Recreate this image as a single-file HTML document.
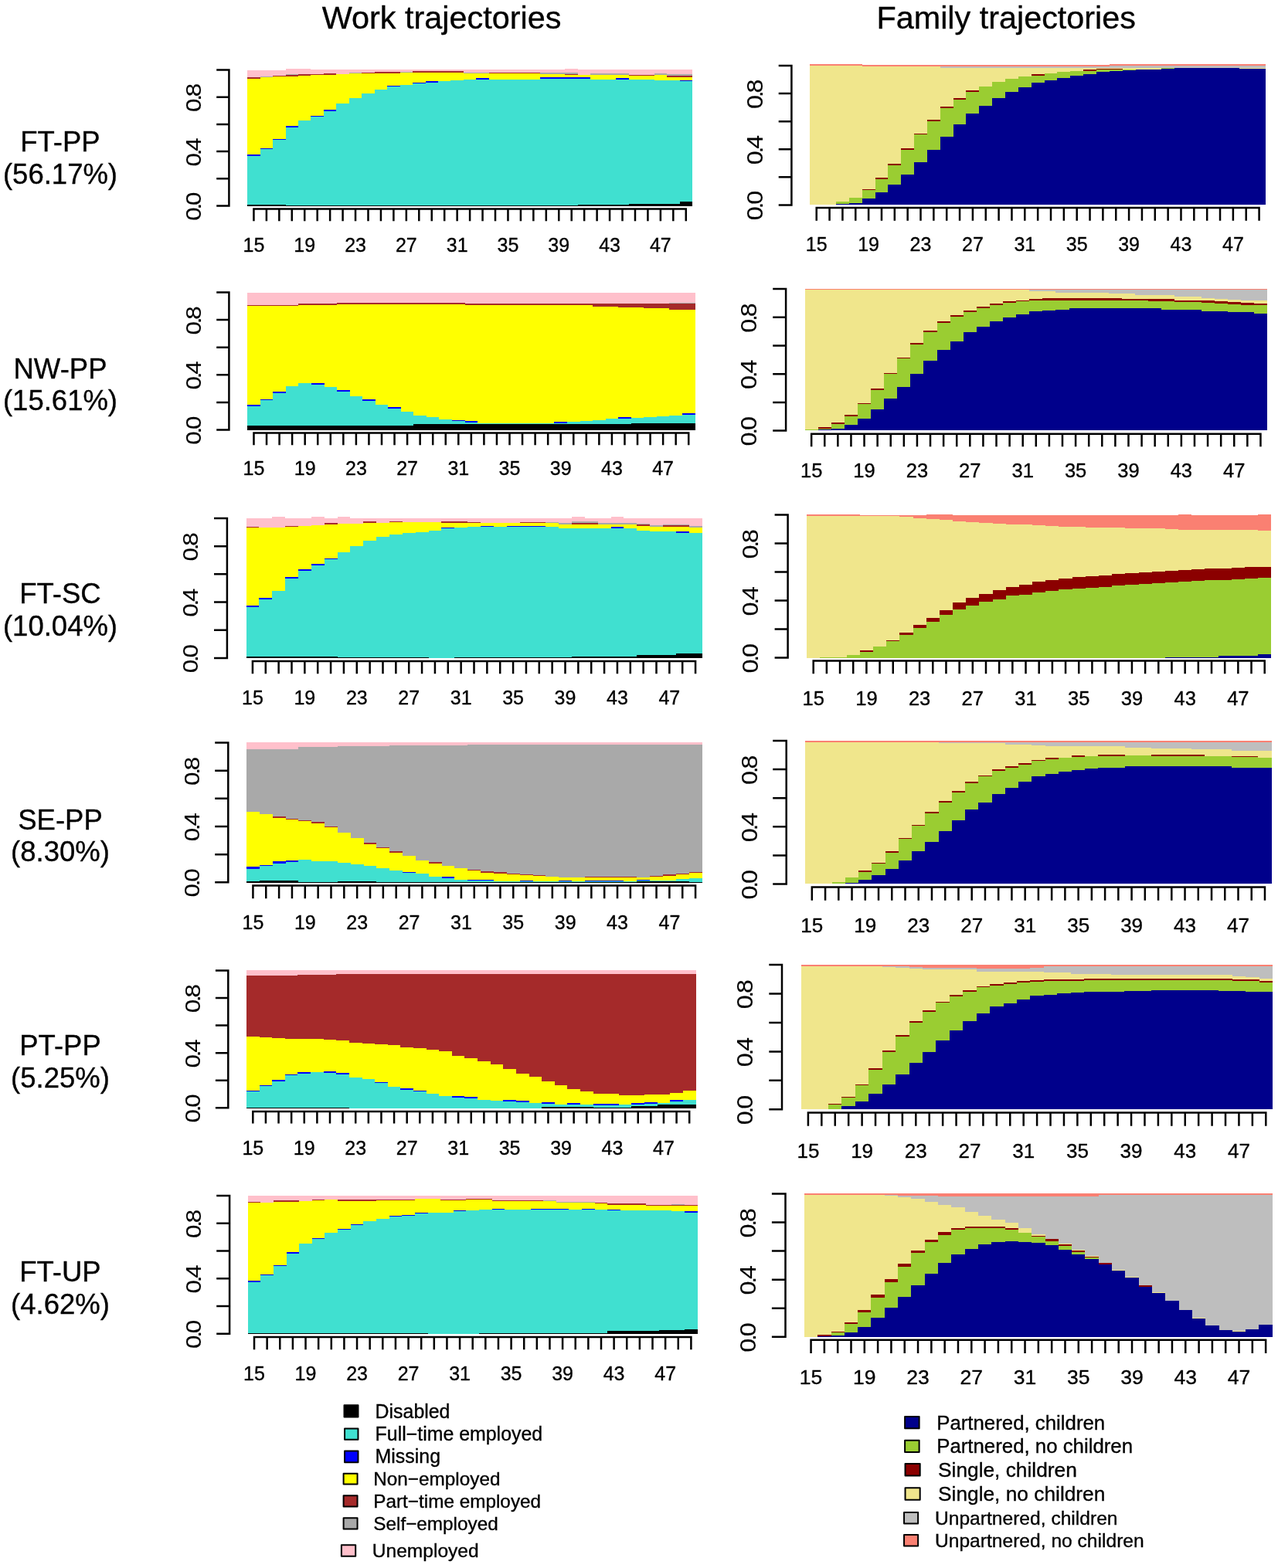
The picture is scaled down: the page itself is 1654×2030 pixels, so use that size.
<!DOCTYPE html>
<html lang="en">
<head>
<meta charset="utf-8">
<title>Work and family trajectories</title>
<style>
html,body{margin:0;padding:0;background:#fff;}
body{width:1654px;height:2030px;overflow:hidden;}
svg{display:block;}
svg text{font-family:"Liberation Sans", Arial, Helvetica, sans-serif;fill:#000;stroke:#000;}
svg{stroke-width:0.35px;}
</style>
</head>
<body>
<svg width="1654" height="2030" viewBox="0 0 1654 2030">
<rect width="1654" height="2030" fill="#fff"/>
<g><g shape-rendering="crispEdges">
<path fill="#FFC0CB" d="M320.2 266.82L320.2 90.88L336.65 90.88L353.1 90.88L369.55 90.88L369.55 89.07L386.01 89.07L402.46 89.07L402.46 90.34L418.91 90.34L435.36 90.34L451.81 90.34L468.26 90.34L484.71 90.34L501.17 90.34L517.62 90.34L534.07 90.34L550.52 90.34L566.97 90.34L583.42 90.34L599.87 90.34L616.33 90.34L632.78 90.34L649.23 90.34L665.68 90.34L682.13 90.34L698.58 90.34L715.03 90.34L731.49 90.34L731.49 89.07L747.94 89.07L747.94 90.34L764.39 90.34L780.84 90.34L797.29 90.34L813.74 90.34L830.19 90.34L846.65 90.34L863.1 90.34L879.55 90.34L896 90.34L896 266.82 Z"/>
<path fill="#A9A9A9" d="M320.2 266.82L320.2 100.13L336.65 100.13L336.65 98.5L353.1 98.5L353.1 97.59L369.55 97.59L369.55 96.14L386.01 96.14L386.01 96.32L402.46 96.32L402.46 95.78L418.91 95.78L418.91 95.24L435.36 95.24L435.36 96.32L451.81 96.32L451.81 94.33L468.26 94.33L468.26 93.97L484.71 93.97L484.71 93.42L501.17 93.42L517.62 93.42L517.62 92.88L534.07 92.88L534.07 92.15L550.52 92.15L566.97 92.15L583.42 92.15L599.87 92.15L599.87 94.15L616.33 94.15L632.78 94.15L632.78 93.6L649.23 93.6L665.68 93.6L682.13 93.6L698.58 93.6L698.58 93.97L715.03 93.97L731.49 93.97L731.49 93.78L747.94 93.78L747.94 97.23L764.39 97.23L764.39 95.42L780.84 95.42L797.29 95.42L813.74 95.42L813.74 97.23L830.19 97.23L846.65 97.23L846.65 95.42L863.1 95.42L863.1 96.32L879.55 96.32L896 96.32L896 266.82 Z"/>
<path fill="#A52A2A" d="M320.2 266.82L320.2 100.13L336.65 100.13L336.65 99.59L353.1 99.59L353.1 97.59L369.55 97.59L369.55 97.23L386.01 97.23L386.01 96.32L402.46 96.32L402.46 95.78L418.91 95.78L418.91 95.24L435.36 95.24L435.36 96.32L451.81 96.32L451.81 95.42L468.26 95.42L468.26 93.97L484.71 93.97L484.71 93.42L501.17 93.42L517.62 93.42L517.62 93.97L534.07 93.97L534.07 92.15L550.52 92.15L566.97 92.15L583.42 92.15L599.87 92.15L599.87 95.24L616.33 95.24L632.78 95.24L632.78 93.6L649.23 93.6L665.68 93.6L682.13 93.6L698.58 93.6L698.58 95.6L715.03 95.6L731.49 95.6L731.49 95.96L747.94 95.96L747.94 97.23L764.39 97.23L780.84 97.23L797.29 97.23L813.74 97.23L830.19 97.23L846.65 97.23L863.1 97.23L863.1 98.14L879.55 98.14L896 98.14L896 266.82 Z"/>
<path fill="#FFFF00" d="M320.2 266.82L320.2 101.77L336.65 101.77L336.65 99.59L353.1 99.59L353.1 99.04L369.55 99.04L369.55 98.68L386.01 98.68L386.01 97.78L402.46 97.78L402.46 97.23L418.91 97.23L418.91 96.69L435.36 96.69L435.36 96.32L451.81 96.32L451.81 95.42L468.26 95.42L484.71 95.42L484.71 94.87L501.17 94.87L517.62 94.87L517.62 93.97L534.07 93.97L534.07 93.6L550.52 93.6L566.97 93.6L583.42 93.6L599.87 93.6L599.87 95.24L616.33 95.24L632.78 95.24L649.23 95.24L665.68 95.24L682.13 95.24L698.58 95.24L698.58 95.6L715.03 95.6L731.49 95.6L731.49 97.23L747.94 97.23L764.39 97.23L780.84 97.23L797.29 97.23L813.74 97.23L813.74 98.14L830.19 98.14L846.65 98.14L846.65 97.23L863.1 97.23L863.1 99.59L879.55 99.59L896 99.59L896 266.82 Z"/>
<path fill="#0000FF" d="M320.2 266.82L320.2 200.25L336.65 200.25L336.65 191.73L353.1 191.73L353.1 179.58L369.55 179.58L369.55 163.25L386.01 163.25L386.01 155.82L402.46 155.82L402.46 149.65L418.91 149.65L418.91 142.39L435.36 142.39L435.36 134.41L451.81 134.41L451.81 126.8L468.26 126.8L468.26 120.99L484.71 120.99L484.71 115.55L501.17 115.55L501.17 110.65L517.62 110.65L517.62 109.93L534.07 109.93L534.07 106.84L550.52 106.84L550.52 105.21L566.97 105.21L566.97 105.39L583.42 105.39L583.42 104.12L599.87 104.12L599.87 103.04L616.33 103.04L616.33 101.04L632.78 101.04L632.78 102.67L649.23 102.67L665.68 102.67L682.13 102.67L698.58 102.67L698.58 100.13L715.03 100.13L731.49 100.13L747.94 100.13L764.39 100.13L764.39 102.67L780.84 102.67L797.29 102.67L797.29 101.04L813.74 101.04L813.74 103.22L830.19 103.22L846.65 103.22L846.65 103.58L863.1 103.58L879.55 103.58L879.55 103.76L896 103.76L896 266.82 Z"/>
<path fill="#40E0D0" d="M320.2 266.82L320.2 201.89L336.65 201.89L336.65 193.36L353.1 193.36L353.1 181.21L369.55 181.21L369.55 164.89L386.01 164.89L386.01 155.82L402.46 155.82L402.46 151.28L418.91 151.28L418.91 144.03L435.36 144.03L435.36 134.41L451.81 134.41L451.81 126.8L468.26 126.8L468.26 120.99L484.71 120.99L484.71 115.55L501.17 115.55L501.17 112.29L517.62 112.29L517.62 109.93L534.07 109.93L534.07 108.48L550.52 108.48L550.52 106.84L566.97 106.84L566.97 105.39L583.42 105.39L583.42 104.12L599.87 104.12L599.87 103.04L616.33 103.04L616.33 102.67L632.78 102.67L649.23 102.67L665.68 102.67L682.13 102.67L698.58 102.67L698.58 101.77L715.03 101.77L731.49 101.77L747.94 101.77L764.39 101.77L764.39 102.67L780.84 102.67L797.29 102.67L813.74 102.67L813.74 103.22L830.19 103.22L846.65 103.22L846.65 103.58L863.1 103.58L879.55 103.58L879.55 105.39L896 105.39L896 266.82 Z"/>
<path fill="#000000" d="M320.2 266.82L320.2 265.37L336.65 265.37L353.1 265.37L369.55 265.37L369.55 265.91L386.01 265.91L402.46 265.91L418.91 265.91L435.36 265.91L451.81 265.91L468.26 265.91L484.71 265.91L501.17 265.91L501.17 266.28L517.62 266.28L534.07 266.28L550.52 266.28L566.97 266.28L583.42 266.28L599.87 266.28L616.33 266.28L632.78 266.28L649.23 266.28L665.68 266.28L682.13 266.28L698.58 266.28L715.03 266.28L731.49 266.28L747.94 266.28L747.94 265.37L764.39 265.37L780.84 265.37L797.29 265.37L813.74 265.37L813.74 264.1L830.19 264.1L846.65 264.1L863.1 264.1L879.55 264.1L879.55 261.38L896 261.38L896 266.82 Z"/>
</g>
<path fill="none" stroke="#000" stroke-width="2.5" d="M296.4 89.25V267.75M280.2 266.5H296.4M280.2 231.3H296.4M280.2 196.1H296.4M280.2 160.9H296.4M280.2 125.7H296.4M280.2 90.5H296.4M327.18 270.6H889.02M328.43 270.6V286.3M344.88 270.6V286.3M361.33 270.6V286.3M377.78 270.6V286.3M394.23 270.6V286.3M410.68 270.6V286.3M427.13 270.6V286.3M443.59 270.6V286.3M460.04 270.6V286.3M476.49 270.6V286.3M492.94 270.6V286.3M509.39 270.6V286.3M525.84 270.6V286.3M542.29 270.6V286.3M558.75 270.6V286.3M575.2 270.6V286.3M591.65 270.6V286.3M608.1 270.6V286.3M624.55 270.6V286.3M641 270.6V286.3M657.45 270.6V286.3M673.91 270.6V286.3M690.36 270.6V286.3M706.81 270.6V286.3M723.26 270.6V286.3M739.71 270.6V286.3M756.16 270.6V286.3M772.61 270.6V286.3M789.07 270.6V286.3M805.52 270.6V286.3M821.97 270.6V286.3M838.42 270.6V286.3M854.87 270.6V286.3M871.32 270.6V286.3M887.77 270.6V286.3"/>
<g font-size="25" text-anchor="middle"><text transform="translate(328.43 325.5) scale(1 1)">15</text><text transform="translate(394.23 325.5) scale(1 1)">19</text><text transform="translate(460.04 325.5) scale(1 1)">23</text><text transform="translate(525.84 325.5) scale(1 1)">27</text><text transform="translate(591.65 325.5) scale(1 1)">31</text><text transform="translate(657.45 325.5) scale(1 1)">35</text><text transform="translate(723.26 325.5) scale(1 1)">39</text><text transform="translate(789.07 325.5) scale(1 1)">43</text><text transform="translate(854.87 325.5) scale(1 1)">47</text></g>
<g font-size="28.4" text-anchor="middle" letter-spacing="-2.9" stroke-width="0.1"><text transform="translate(260.1 268.8) rotate(-90) scale(1.105 1)">0.0</text><text transform="translate(260.1 198.4) rotate(-90) scale(1.105 1)">0.4</text><text transform="translate(260.1 128) rotate(-90) scale(1.105 1)">0.8</text></g></g>
<g><g shape-rendering="crispEdges">
<path fill="#FA8072" d="M1048.3 265.45L1048.3 83.16L1065.15 83.16L1082 83.16L1098.85 83.16L1115.69 83.16L1115.69 84.43L1132.54 84.43L1149.39 84.43L1166.24 84.43L1183.09 84.43L1199.94 84.43L1216.79 84.43L1233.63 84.43L1250.48 84.43L1267.33 84.43L1284.18 84.43L1301.03 84.43L1317.88 84.43L1334.73 84.43L1351.57 84.43L1368.42 84.43L1385.27 84.43L1402.12 84.43L1418.97 84.43L1435.82 84.43L1435.82 83.16L1452.67 83.16L1469.51 83.16L1486.36 83.16L1503.21 83.16L1520.06 83.16L1536.91 83.16L1553.76 83.16L1570.61 83.16L1587.45 83.16L1604.3 83.16L1621.15 83.16L1638 83.16L1638 265.45 Z"/>
<path fill="#BEBEBE" d="M1048.3 265.45L1048.3 84.98L1065.15 84.98L1082 84.98L1098.85 84.98L1115.69 84.98L1115.69 85.88L1132.54 85.88L1149.39 85.88L1166.24 85.88L1183.09 85.88L1199.94 85.88L1216.79 85.88L1216.79 86.06L1233.63 86.06L1250.48 86.06L1267.33 86.06L1284.18 86.06L1301.03 86.06L1317.88 86.06L1334.73 86.06L1351.57 86.06L1368.42 86.06L1385.27 86.06L1402.12 86.06L1418.97 86.06L1435.82 86.06L1435.82 85.16L1452.67 85.16L1469.51 85.16L1486.36 85.16L1503.21 85.16L1520.06 85.16L1536.91 85.16L1553.76 85.16L1570.61 85.16L1587.45 85.16L1604.3 85.16L1621.15 85.16L1638 85.16L1638 265.45 Z"/>
<path fill="#F0E68C" d="M1048.3 265.45L1048.3 84.98L1065.15 84.98L1082 84.98L1098.85 84.98L1115.69 84.98L1115.69 85.88L1132.54 85.88L1149.39 85.88L1166.24 85.88L1183.09 85.88L1199.94 85.88L1216.79 85.88L1216.79 88.06L1233.63 88.06L1250.48 88.06L1267.33 88.06L1284.18 88.06L1301.03 88.06L1317.88 88.06L1334.73 88.06L1351.57 88.06L1368.42 88.06L1385.27 88.06L1402.12 88.06L1418.97 88.06L1435.82 88.06L1452.67 88.06L1469.51 88.06L1486.36 88.06L1503.21 88.06L1503.21 87.7L1520.06 87.7L1536.91 87.7L1553.76 87.7L1570.61 87.7L1587.45 87.7L1604.3 87.7L1604.3 88.06L1621.15 88.06L1638 88.06L1638 265.45 Z"/>
<path fill="#8B0000" d="M1048.3 265.45L1048.3 265.45L1065.15 265.45L1065.15 264.54L1082 264.54L1082 261.46L1098.85 261.46L1098.85 256.38L1115.69 256.38L1115.69 244.59L1132.54 244.59L1132.54 230.08L1149.39 230.08L1149.39 211.94L1166.24 211.94L1166.24 192.35L1183.09 192.35L1183.09 172.58L1199.94 172.58L1199.94 154.81L1216.79 154.81L1216.79 138.48L1233.63 138.48L1233.63 127.24L1250.48 127.24L1250.48 117.26L1267.33 117.26L1267.33 112.18L1284.18 112.18L1284.18 106.2L1301.03 106.2L1301.03 102.21L1317.88 102.21L1317.88 99.12L1334.73 99.12L1334.73 95.86L1351.57 95.86L1351.57 94.95L1368.42 94.95L1368.42 93.14L1385.27 93.14L1385.27 92.23L1402.12 92.23L1402.12 90.42L1418.97 90.42L1418.97 88.6L1435.82 88.6L1452.67 88.6L1452.67 89.87L1469.51 89.87L1469.51 89.51L1486.36 89.51L1503.21 89.51L1503.21 87.7L1520.06 87.7L1536.91 87.7L1553.76 87.7L1570.61 87.7L1587.45 87.7L1604.3 87.7L1604.3 89.15L1621.15 89.15L1638 89.15L1638 265.45 Z"/>
<path fill="#9ACD32" d="M1048.3 265.45L1048.3 265.45L1065.15 265.45L1065.15 264.54L1082 264.54L1082 261.46L1098.85 261.46L1098.85 256.38L1115.69 256.38L1115.69 246.4L1132.54 246.4L1132.54 231.89L1149.39 231.89L1149.39 213.75L1166.24 213.75L1166.24 194.17L1183.09 194.17L1183.09 174.4L1199.94 174.4L1199.94 156.62L1216.79 156.62L1216.79 140.3L1233.63 140.3L1233.63 129.05L1250.48 129.05L1250.48 119.07L1267.33 119.07L1267.33 112.18L1284.18 112.18L1284.18 106.2L1301.03 106.2L1301.03 102.21L1317.88 102.21L1317.88 99.12L1334.73 99.12L1334.73 97.67L1351.57 97.67L1351.57 94.95L1368.42 94.95L1368.42 93.14L1385.27 93.14L1385.27 92.23L1402.12 92.23L1418.97 92.23L1418.97 90.42L1435.82 90.42L1452.67 90.42L1452.67 89.87L1469.51 89.87L1469.51 89.51L1486.36 89.51L1503.21 89.51L1503.21 87.7L1520.06 87.7L1536.91 87.7L1553.76 87.7L1570.61 87.7L1587.45 87.7L1604.3 87.7L1604.3 89.15L1621.15 89.15L1638 89.15L1638 265.45 Z"/>
<path fill="#00008B" d="M1048.3 265.45L1048.3 265.45L1065.15 265.45L1065.15 265.08L1082 265.08L1082 264.18L1098.85 264.18L1098.85 262.73L1115.69 262.73L1115.69 256.92L1132.54 256.92L1132.54 249.12L1149.39 249.12L1149.39 239.15L1166.24 239.15L1166.24 226.09L1183.09 226.09L1183.09 210.49L1199.94 210.49L1199.94 193.8L1216.79 193.8L1216.79 176.57L1233.63 176.57L1233.63 161.15L1250.48 161.15L1250.48 146.64L1267.33 146.64L1267.33 137.03L1284.18 137.03L1284.18 127.06L1301.03 127.06L1301.03 118.53L1317.88 118.53L1317.88 112.73L1334.73 112.73L1334.73 107.29L1351.57 107.29L1351.57 104.02L1368.42 104.02L1368.42 101.3L1385.27 101.3L1385.27 97.67L1402.12 97.67L1402.12 95.86L1418.97 95.86L1418.97 93.14L1435.82 93.14L1435.82 91.87L1452.67 91.87L1452.67 91.32L1469.51 91.32L1469.51 90.42L1486.36 90.42L1486.36 89.51L1503.21 89.51L1503.21 89.15L1520.06 89.15L1520.06 87.7L1536.91 87.7L1553.76 87.7L1570.61 87.7L1587.45 87.7L1604.3 87.7L1604.3 89.15L1621.15 89.15L1638 89.15L1638 265.45 Z"/>
</g>
<path fill="none" stroke="#000" stroke-width="2.5" d="M1024.4 83.75V266.65M1007.7 265.4H1024.4M1007.7 229.32H1024.4M1007.7 193.24H1024.4M1007.7 157.16H1024.4M1007.7 121.08H1024.4M1007.7 85H1024.4M1055.47 268.9H1630.83M1056.72 268.9V285.7M1073.57 268.9V285.7M1090.42 268.9V285.7M1107.27 268.9V285.7M1124.12 268.9V285.7M1140.97 268.9V285.7M1157.82 268.9V285.7M1174.66 268.9V285.7M1191.51 268.9V285.7M1208.36 268.9V285.7M1225.21 268.9V285.7M1242.06 268.9V285.7M1258.91 268.9V285.7M1275.76 268.9V285.7M1292.6 268.9V285.7M1309.45 268.9V285.7M1326.3 268.9V285.7M1343.15 268.9V285.7M1360 268.9V285.7M1376.85 268.9V285.7M1393.7 268.9V285.7M1410.54 268.9V285.7M1427.39 268.9V285.7M1444.24 268.9V285.7M1461.09 268.9V285.7M1477.94 268.9V285.7M1494.79 268.9V285.7M1511.64 268.9V285.7M1528.48 268.9V285.7M1545.33 268.9V285.7M1562.18 268.9V285.7M1579.03 268.9V285.7M1595.88 268.9V285.7M1612.73 268.9V285.7M1629.58 268.9V285.7"/>
<g font-size="25" text-anchor="middle"><text transform="translate(1056.72 325.3) scale(1 1)">15</text><text transform="translate(1124.12 325.3) scale(1 1)">19</text><text transform="translate(1191.51 325.3) scale(1 1)">23</text><text transform="translate(1258.91 325.3) scale(1 1)">27</text><text transform="translate(1326.3 325.3) scale(1 1)">31</text><text transform="translate(1393.7 325.3) scale(1 1)">35</text><text transform="translate(1461.09 325.3) scale(1 1)">39</text><text transform="translate(1528.48 325.3) scale(1 1)">43</text><text transform="translate(1595.88 325.3) scale(1 1)">47</text></g>
<g font-size="29.2" text-anchor="middle" letter-spacing="-2.9" stroke-width="0.1"><text transform="translate(987 267.7) rotate(-90) scale(1.105 1)">0.0</text><text transform="translate(987 195.54) rotate(-90) scale(1.105 1)">0.4</text><text transform="translate(987 123.38) rotate(-90) scale(1.105 1)">0.8</text></g></g>
<g><g shape-rendering="crispEdges">
<path fill="#FFC0CB" d="M320.2 556.63L320.2 378.88L336.75 378.88L353.3 378.88L369.85 378.88L386.41 378.88L402.96 378.88L419.51 378.88L436.06 378.88L452.61 378.88L469.16 378.88L485.71 378.88L502.27 378.88L518.82 378.88L535.37 378.88L551.92 378.88L568.47 378.88L585.02 378.88L601.57 378.88L618.13 378.88L634.68 378.88L651.23 378.88L667.78 378.88L684.33 378.88L700.88 378.88L717.43 378.88L733.99 378.88L750.54 378.88L767.09 378.88L783.64 378.88L800.19 378.88L816.74 378.88L833.29 378.88L849.85 378.88L866.4 378.88L882.95 378.88L899.5 378.88L899.5 556.63 Z"/>
<path fill="#A9A9A9" d="M320.2 556.63L320.2 394.66L336.75 394.66L353.3 394.66L369.85 394.66L386.41 394.66L386.41 393.21L402.96 393.21L419.51 393.21L436.06 393.21L436.06 392.12L452.61 392.12L469.16 392.12L485.71 392.12L502.27 392.12L518.82 392.12L535.37 392.12L551.92 392.12L568.47 392.12L585.02 392.12L601.57 392.12L601.57 393.03L618.13 393.03L634.68 393.03L651.23 393.03L667.78 393.03L684.33 393.03L700.88 393.03L717.43 393.03L733.99 393.03L750.54 393.03L767.09 393.03L783.64 393.03L800.19 393.03L816.74 393.03L833.29 393.03L849.85 393.03L866.4 393.03L866.4 391.94L882.95 391.94L899.5 391.94L899.5 556.63 Z"/>
<path fill="#A52A2A" d="M320.2 556.63L320.2 394.66L336.75 394.66L353.3 394.66L369.85 394.66L386.41 394.66L386.41 393.21L402.96 393.21L419.51 393.21L436.06 393.21L436.06 392.12L452.61 392.12L469.16 392.12L485.71 392.12L502.27 392.12L518.82 392.12L535.37 392.12L551.92 392.12L568.47 392.12L585.02 392.12L601.57 392.12L601.57 393.03L618.13 393.03L634.68 393.03L651.23 393.03L667.78 393.03L684.33 393.03L700.88 393.03L717.43 393.03L733.99 393.03L750.54 393.03L767.09 393.03L783.64 393.03L800.19 393.03L816.74 393.03L833.29 393.03L849.85 393.03L866.4 393.03L882.95 393.03L899.5 393.03L899.5 556.63 Z"/>
<path fill="#FFFF00" d="M320.2 556.63L320.2 396.11L336.75 396.11L353.3 396.11L369.85 396.11L386.41 396.11L386.41 394.66L402.96 394.66L419.51 394.66L436.06 394.66L436.06 393.94L452.61 393.94L469.16 393.94L485.71 393.94L502.27 393.94L518.82 393.94L535.37 393.94L551.92 393.94L568.47 393.94L585.02 393.94L601.57 393.94L601.57 395.21L618.13 395.21L634.68 395.21L651.23 395.21L667.78 395.21L684.33 395.21L700.88 395.21L717.43 395.21L733.99 395.21L750.54 395.21L767.09 395.21L767.09 396.66L783.64 396.66L800.19 396.66L800.19 397.93L816.74 397.93L833.29 397.93L833.29 399.2L849.85 399.2L866.4 399.2L866.4 400.65L882.95 400.65L899.5 400.65L899.5 556.63 Z"/>
<path fill="#0000FF" d="M320.2 556.63L320.2 524.17L336.75 524.17L336.75 516.55L353.3 516.55L353.3 506.94L369.85 506.94L369.85 500.04L386.41 500.04L386.41 495.87L402.96 495.87L402.96 496.05L419.51 496.05L419.51 501.31L436.06 501.31L436.06 505.12L452.61 505.12L452.61 512.56L469.16 512.56L469.16 517.46L485.71 517.46L485.71 523.62L502.27 523.62L502.27 527.43L518.82 527.43L518.82 533.42L535.37 533.42L535.37 537.59L551.92 537.59L551.92 540.31L568.47 540.31L568.47 543.03L585.02 543.03L585.02 543.76L601.57 543.76L601.57 545.39L618.13 545.39L618.13 547.56L634.68 547.56L651.23 547.56L667.78 547.56L684.33 547.56L700.88 547.56L717.43 547.56L717.43 545.93L733.99 545.93L733.99 545.75L750.54 545.75L750.54 544.84L767.09 544.84L767.09 543.57L783.64 543.57L783.64 542.49L800.19 542.49L800.19 540.13L816.74 540.13L816.74 541.22L833.29 541.22L833.29 539.95L849.85 539.95L849.85 539.04L866.4 539.04L866.4 538.13L882.95 538.13L882.95 535.41L899.5 535.41L899.5 556.63 Z"/>
<path fill="#40E0D0" d="M320.2 556.63L320.2 525.8L336.75 525.8L336.75 518.18L353.3 518.18L353.3 508.57L369.85 508.57L369.85 500.04L386.41 500.04L386.41 495.87L402.96 495.87L402.96 497.69L419.51 497.69L419.51 501.31L436.06 501.31L436.06 506.75L452.61 506.75L452.61 512.56L469.16 512.56L469.16 519.09L485.71 519.09L485.71 523.62L502.27 523.62L502.27 529.06L518.82 529.06L518.82 533.42L535.37 533.42L535.37 537.59L551.92 537.59L551.92 540.31L568.47 540.31L568.47 543.03L585.02 543.03L585.02 545.39L601.57 545.39L601.57 547.02L618.13 547.02L618.13 547.56L634.68 547.56L651.23 547.56L667.78 547.56L684.33 547.56L700.88 547.56L717.43 547.56L733.99 547.56L733.99 545.75L750.54 545.75L750.54 544.84L767.09 544.84L767.09 543.57L783.64 543.57L783.64 542.49L800.19 542.49L800.19 541.76L816.74 541.76L816.74 541.22L833.29 541.22L833.29 539.95L849.85 539.95L849.85 539.04L866.4 539.04L866.4 538.13L882.95 538.13L882.95 537.04L899.5 537.04L899.5 556.63 Z"/>
<path fill="#000000" d="M320.2 556.63L320.2 551.19L336.75 551.19L353.3 551.19L369.85 551.19L386.41 551.19L402.96 551.19L419.51 551.19L436.06 551.19L452.61 551.19L469.16 551.19L485.71 551.19L502.27 551.19L518.82 551.19L535.37 551.19L535.37 549.38L551.92 549.38L568.47 549.38L585.02 549.38L601.57 549.38L618.13 549.38L634.68 549.38L651.23 549.38L667.78 549.38L684.33 549.38L700.88 549.38L717.43 549.38L733.99 549.38L750.54 549.38L767.09 549.38L783.64 549.38L800.19 549.38L816.74 549.38L816.74 548.47L833.29 548.47L849.85 548.47L866.4 548.47L882.95 548.47L899.5 548.47L899.5 556.63 Z"/>
</g>
<path fill="none" stroke="#000" stroke-width="2.5" d="M296.4 377.25V557.75M280.2 556.5H296.4M280.2 520.9H296.4M280.2 485.3H296.4M280.2 449.7H296.4M280.2 414.1H296.4M280.2 378.5H296.4M327.23 560.6H892.47M328.48 560.6V576.3M345.03 560.6V576.3M361.58 560.6V576.3M378.13 560.6V576.3M394.68 560.6V576.3M411.23 560.6V576.3M427.78 560.6V576.3M444.34 560.6V576.3M460.89 560.6V576.3M477.44 560.6V576.3M493.99 560.6V576.3M510.54 560.6V576.3M527.09 560.6V576.3M543.64 560.6V576.3M560.2 560.6V576.3M576.75 560.6V576.3M593.3 560.6V576.3M609.85 560.6V576.3M626.4 560.6V576.3M642.95 560.6V576.3M659.5 560.6V576.3M676.06 560.6V576.3M692.61 560.6V576.3M709.16 560.6V576.3M725.71 560.6V576.3M742.26 560.6V576.3M758.81 560.6V576.3M775.36 560.6V576.3M791.92 560.6V576.3M808.47 560.6V576.3M825.02 560.6V576.3M841.57 560.6V576.3M858.12 560.6V576.3M874.67 560.6V576.3M891.22 560.6V576.3"/>
<g font-size="25" text-anchor="middle"><text transform="translate(328.48 615.3) scale(1 1)">15</text><text transform="translate(394.68 615.3) scale(1 1)">19</text><text transform="translate(460.89 615.3) scale(1 1)">23</text><text transform="translate(527.09 615.3) scale(1 1)">27</text><text transform="translate(593.3 615.3) scale(1 1)">31</text><text transform="translate(659.5 615.3) scale(1 1)">35</text><text transform="translate(725.71 615.3) scale(1 1)">39</text><text transform="translate(791.92 615.3) scale(1 1)">43</text><text transform="translate(858.12 615.3) scale(1 1)">47</text></g>
<g font-size="28.4" text-anchor="middle" letter-spacing="-2.9" stroke-width="0.1"><text transform="translate(259.82 558.8) rotate(-90) scale(1.105 1)">0.0</text><text transform="translate(259.82 487.6) rotate(-90) scale(1.105 1)">0.4</text><text transform="translate(259.82 416.4) rotate(-90) scale(1.105 1)">0.8</text></g></g>
<g><g shape-rendering="crispEdges">
<path fill="#FA8072" d="M1041.6 557.26L1041.6 374.07L1058.7 374.07L1075.79 374.07L1092.89 374.07L1109.99 374.07L1127.09 374.07L1144.18 374.07L1161.28 374.07L1178.38 374.07L1195.47 374.07L1212.57 374.07L1229.67 374.07L1246.77 374.07L1263.86 374.07L1280.96 374.07L1298.06 374.07L1315.15 374.07L1332.25 374.07L1349.35 374.07L1366.45 374.07L1383.54 374.07L1400.64 374.07L1417.74 374.07L1434.83 374.07L1451.93 374.07L1469.03 374.07L1486.13 374.07L1503.22 374.07L1520.32 374.07L1537.42 374.07L1554.51 374.07L1571.61 374.07L1588.71 374.07L1605.81 374.07L1622.9 374.07L1640 374.07L1640 557.26 Z"/>
<path fill="#BEBEBE" d="M1041.6 557.26L1041.6 375.34L1058.7 375.34L1075.79 375.34L1092.89 375.34L1109.99 375.34L1127.09 375.34L1144.18 375.34L1161.28 375.34L1178.38 375.34L1195.47 375.34L1212.57 375.34L1229.67 375.34L1246.77 375.34L1263.86 375.34L1280.96 375.34L1298.06 375.34L1315.15 375.34L1332.25 375.34L1349.35 375.34L1366.45 375.34L1383.54 375.34L1400.64 375.34L1417.74 375.34L1434.83 375.34L1451.93 375.34L1469.03 375.34L1486.13 375.34L1503.22 375.34L1520.32 375.34L1537.42 375.34L1554.51 375.34L1571.61 375.34L1588.71 375.34L1605.81 375.34L1622.9 375.34L1640 375.34L1640 557.26 Z"/>
<path fill="#F0E68C" d="M1041.6 557.26L1041.6 375.34L1058.7 375.34L1075.79 375.34L1092.89 375.34L1109.99 375.34L1127.09 375.34L1144.18 375.34L1161.28 375.34L1178.38 375.34L1195.47 375.34L1212.57 375.34L1229.67 375.34L1246.77 375.34L1263.86 375.34L1280.96 375.34L1298.06 375.34L1315.15 375.34L1332.25 375.34L1332.25 376.79L1349.35 376.79L1366.45 376.79L1366.45 378.6L1383.54 378.6L1400.64 378.6L1417.74 378.6L1434.83 378.6L1434.83 380.42L1451.93 380.42L1469.03 380.42L1469.03 382.23L1486.13 382.23L1503.22 382.23L1520.32 382.23L1520.32 384.04L1537.42 384.04L1554.51 384.04L1554.51 385.86L1571.61 385.86L1571.61 386.77L1588.71 386.77L1588.71 387.67L1605.81 387.67L1605.81 388.58L1622.9 388.58L1640 388.58L1640 557.26 Z"/>
<path fill="#8B0000" d="M1041.6 557.26L1041.6 556.35L1058.7 556.35L1058.7 553.27L1075.79 553.27L1075.79 547.29L1092.89 547.29L1092.89 537.31L1109.99 537.31L1109.99 521.53L1127.09 521.53L1127.09 502.85L1144.18 502.85L1144.18 482.53L1161.28 482.53L1161.28 462.58L1178.38 462.58L1178.38 443.9L1195.47 443.9L1195.47 428.48L1212.57 428.48L1212.57 416.15L1229.67 416.15L1229.67 408.17L1246.77 408.17L1246.77 401.82L1263.86 401.82L1263.86 397.1L1280.96 397.1L1280.96 393.11L1298.06 393.11L1298.06 390.39L1315.15 390.39L1315.15 388.58L1332.25 388.58L1332.25 387.31L1349.35 387.31L1349.35 385.86L1366.45 385.86L1383.54 385.86L1400.64 385.86L1417.74 385.86L1434.83 385.86L1451.93 385.86L1451.93 386.77L1469.03 386.77L1486.13 386.77L1486.13 387.13L1503.22 387.13L1520.32 387.13L1520.32 388.58L1537.42 388.58L1554.51 388.58L1554.51 389.49L1571.61 389.49L1571.61 390.39L1588.71 390.39L1588.71 391.3L1605.81 391.3L1605.81 392.21L1622.9 392.21L1622.9 393.11L1640 393.11L1640 557.26 Z"/>
<path fill="#9ACD32" d="M1041.6 557.26L1041.6 556.35L1058.7 556.35L1058.7 555.08L1075.79 555.08L1075.79 549.1L1092.89 549.1L1092.89 539.12L1109.99 539.12L1109.99 523.34L1127.09 523.34L1127.09 504.66L1144.18 504.66L1144.18 484.35L1161.28 484.35L1161.28 464.4L1178.38 464.4L1178.38 445.71L1195.47 445.71L1195.47 430.3L1212.57 430.3L1212.57 417.96L1229.67 417.96L1229.67 409.98L1246.77 409.98L1246.77 403.63L1263.86 403.63L1263.86 398.92L1280.96 398.92L1280.96 394.93L1298.06 394.93L1298.06 392.21L1315.15 392.21L1315.15 390.39L1332.25 390.39L1332.25 389.49L1349.35 389.49L1349.35 388.58L1366.45 388.58L1383.54 388.58L1400.64 388.58L1417.74 388.58L1434.83 388.58L1451.93 388.58L1451.93 389.49L1469.03 389.49L1486.13 389.49L1486.13 390.03L1503.22 390.03L1520.32 390.03L1520.32 391.3L1537.42 391.3L1554.51 391.3L1554.51 392.21L1571.61 392.21L1571.61 393.11L1588.71 393.11L1588.71 394.02L1605.81 394.02L1605.81 394.56L1622.9 394.56L1622.9 395.47L1640 395.47L1640 557.26 Z"/>
<path fill="#00008B" d="M1041.6 557.26L1041.6 557.26L1058.7 557.26L1058.7 555.81L1075.79 555.81L1075.79 555.08L1092.89 555.08L1092.89 550.37L1109.99 550.37L1109.99 542.21L1127.09 542.21L1127.09 530.42L1144.18 530.42L1144.18 515.91L1161.28 515.91L1161.28 500.67L1178.38 500.67L1178.38 484.35L1195.47 484.35L1195.47 467.48L1212.57 467.48L1212.57 452.97L1229.67 452.97L1229.67 441.54L1246.77 441.54L1246.77 430.3L1263.86 430.3L1263.86 422.68L1280.96 422.68L1280.96 415.79L1298.06 415.79L1298.06 411.25L1315.15 411.25L1315.15 407.08L1332.25 407.08L1332.25 403.45L1349.35 403.45L1349.35 402.18L1366.45 402.18L1366.45 401.28L1383.54 401.28L1383.54 399.46L1400.64 399.46L1417.74 399.46L1434.83 399.46L1451.93 399.46L1469.03 399.46L1486.13 399.46L1503.22 399.46L1503.22 401.28L1520.32 401.28L1537.42 401.28L1554.51 401.28L1554.51 402.73L1571.61 402.73L1588.71 402.73L1588.71 404L1605.81 404L1622.9 404L1622.9 405.81L1640 405.81L1640 557.26 Z"/>
</g>
<path fill="none" stroke="#000" stroke-width="2.5" d="M1017.1 372.75V558.85M1000.2 557.6H1017.1M1000.2 520.88H1017.1M1000.2 484.16H1017.1M1000.2 447.44H1017.1M1000.2 410.72H1017.1M1000.2 374H1017.1M1048.9 561.7H1632.7M1050.15 561.7V578.2M1067.25 561.7V578.2M1084.34 561.7V578.2M1101.44 561.7V578.2M1118.54 561.7V578.2M1135.63 561.7V578.2M1152.73 561.7V578.2M1169.83 561.7V578.2M1186.93 561.7V578.2M1204.02 561.7V578.2M1221.12 561.7V578.2M1238.22 561.7V578.2M1255.31 561.7V578.2M1272.41 561.7V578.2M1289.51 561.7V578.2M1306.61 561.7V578.2M1323.7 561.7V578.2M1340.8 561.7V578.2M1357.9 561.7V578.2M1374.99 561.7V578.2M1392.09 561.7V578.2M1409.19 561.7V578.2M1426.29 561.7V578.2M1443.38 561.7V578.2M1460.48 561.7V578.2M1477.58 561.7V578.2M1494.67 561.7V578.2M1511.77 561.7V578.2M1528.87 561.7V578.2M1545.97 561.7V578.2M1563.06 561.7V578.2M1580.16 561.7V578.2M1597.26 561.7V578.2M1614.35 561.7V578.2M1631.45 561.7V578.2"/>
<g font-size="25.5" text-anchor="middle"><text transform="translate(1050.15 618.3) scale(1 1)">15</text><text transform="translate(1118.54 618.3) scale(1 1)">19</text><text transform="translate(1186.93 618.3) scale(1 1)">23</text><text transform="translate(1255.31 618.3) scale(1 1)">27</text><text transform="translate(1323.7 618.3) scale(1 1)">31</text><text transform="translate(1392.09 618.3) scale(1 1)">35</text><text transform="translate(1460.48 618.3) scale(1 1)">39</text><text transform="translate(1528.87 618.3) scale(1 1)">43</text><text transform="translate(1597.26 618.3) scale(1 1)">47</text></g>
<g font-size="29.2" text-anchor="middle" letter-spacing="-2.9" stroke-width="0.1"><text transform="translate(978.9 559.9) rotate(-90) scale(1.105 1)">0.0</text><text transform="translate(978.9 486.46) rotate(-90) scale(1.105 1)">0.4</text><text transform="translate(978.9 413.02) rotate(-90) scale(1.105 1)">0.8</text></g></g>
<g><g shape-rendering="crispEdges">
<path fill="#FFC0CB" d="M318.5 851.9L318.5 671.25L335.36 671.25L352.21 671.25L352.21 669.43L369.07 669.43L369.07 671.25L385.93 671.25L402.79 671.25L402.79 669.43L419.64 669.43L419.64 671.25L436.5 671.25L436.5 669.43L453.36 669.43L453.36 671.25L470.21 671.25L487.07 671.25L503.93 671.25L520.79 671.25L537.64 671.25L554.5 671.25L571.36 671.25L588.21 671.25L605.07 671.25L621.93 671.25L638.79 671.25L655.64 671.25L672.5 671.25L689.36 671.25L706.21 671.25L723.07 671.25L739.93 671.25L739.93 669.43L756.79 669.43L756.79 671.25L773.64 671.25L790.5 671.25L790.5 669.43L807.36 669.43L807.36 671.25L824.21 671.25L841.07 671.25L857.93 671.25L874.79 671.25L891.64 671.25L908.5 671.25L908.5 851.9 Z"/>
<path fill="#A9A9A9" d="M318.5 851.9L318.5 681.58L335.36 681.58L335.36 683.22L352.21 683.22L352.21 682.67L369.07 682.67L369.07 680.5L385.93 680.5L385.93 681.22L402.79 681.22L402.79 679.95L419.64 679.95L419.64 677.41L436.5 677.41L436.5 678.14L453.36 678.14L453.36 677.59L470.21 677.59L470.21 675.24L487.07 675.24L487.07 676.69L503.93 676.69L503.93 674.69L520.79 674.69L520.79 675.96L537.64 675.96L554.5 675.96L571.36 675.96L571.36 675.05L588.21 675.05L605.07 675.05L605.07 675.6L621.93 675.6L621.93 677.23L638.79 677.23L655.64 677.23L672.5 677.23L672.5 675.6L689.36 675.6L706.21 675.6L706.21 675.78L723.07 675.78L723.07 677.05L739.93 677.05L739.93 675.42L756.79 675.42L773.64 675.42L773.64 677.05L790.5 677.05L807.36 677.05L824.21 677.05L824.21 677.78L841.07 677.78L841.07 680.31L857.93 680.31L857.93 678.68L874.79 678.68L891.64 678.68L891.64 681.22L908.5 681.22L908.5 851.9 Z"/>
<path fill="#A52A2A" d="M318.5 851.9L318.5 681.58L335.36 681.58L335.36 683.22L352.21 683.22L352.21 682.67L369.07 682.67L369.07 680.5L385.93 680.5L385.93 681.22L402.79 681.22L402.79 679.95L419.64 679.95L419.64 677.41L436.5 677.41L436.5 678.14L453.36 678.14L453.36 677.59L470.21 677.59L470.21 675.24L487.07 675.24L487.07 676.69L503.93 676.69L503.93 674.69L520.79 674.69L520.79 675.96L537.64 675.96L554.5 675.96L571.36 675.96L571.36 675.05L588.21 675.05L605.07 675.05L605.07 675.6L621.93 675.6L621.93 677.23L638.79 677.23L655.64 677.23L672.5 677.23L672.5 675.6L689.36 675.6L706.21 675.6L706.21 677.23L723.07 677.23L723.07 678.5L739.93 678.5L739.93 676.87L756.79 676.87L773.64 676.87L773.64 678.5L790.5 678.5L807.36 678.5L824.21 678.5L824.21 679.23L841.07 679.23L841.07 681.77L857.93 681.77L857.93 680.13L874.79 680.13L891.64 680.13L891.64 682.67L908.5 682.67L908.5 851.9 Z"/>
<path fill="#FFFF00" d="M318.5 851.9L318.5 683.22L335.36 683.22L352.21 683.22L352.21 682.67L369.07 682.67L369.07 682.13L385.93 682.13L385.93 681.22L402.79 681.22L402.79 679.95L419.64 679.95L419.64 679.04L436.5 679.04L436.5 678.14L453.36 678.14L453.36 677.59L470.21 677.59L470.21 676.87L487.07 676.87L487.07 676.69L503.93 676.69L503.93 676.32L520.79 676.32L520.79 675.96L537.64 675.96L554.5 675.96L571.36 675.96L571.36 676.69L588.21 676.69L605.07 676.69L605.07 677.23L621.93 677.23L638.79 677.23L655.64 677.23L672.5 677.23L689.36 677.23L706.21 677.23L723.07 677.23L723.07 678.5L739.93 678.5L756.79 678.5L773.64 678.5L790.5 678.5L807.36 678.5L824.21 678.5L824.21 680.86L841.07 680.86L841.07 681.77L857.93 681.77L874.79 681.77L891.64 681.77L891.64 682.67L908.5 682.67L908.5 851.9 Z"/>
<path fill="#0000FF" d="M318.5 851.9L318.5 784.06L335.36 784.06L335.36 774.45L352.21 774.45L352.21 764.66L369.07 764.66L369.07 747.24L385.93 747.24L385.93 737.27L402.79 737.27L402.79 730.37L419.64 730.37L419.64 722.76L436.5 722.76L436.5 714.96L453.36 714.96L453.36 707.16L470.21 707.16L470.21 699.54L487.07 699.54L487.07 695.37L503.93 695.37L503.93 691.74L520.79 691.74L520.79 689.93L537.64 689.93L537.64 688.66L554.5 688.66L554.5 687.21L571.36 687.21L571.36 682.85L588.21 682.85L588.21 682.67L605.07 682.67L605.07 682.31L621.93 682.31L621.93 680.68L638.79 680.68L638.79 682.31L655.64 682.31L655.64 680.68L672.5 680.68L689.36 680.68L706.21 680.68L706.21 682.31L723.07 682.31L723.07 683.58L739.93 683.58L756.79 683.58L773.64 683.58L790.5 683.58L790.5 681.95L807.36 681.95L807.36 683.58L824.21 683.58L824.21 687.21L841.07 687.21L841.07 688.11L857.93 688.11L874.79 688.11L874.79 687.93L891.64 687.93L891.64 689.56L908.5 689.56L908.5 851.9 Z"/>
<path fill="#40E0D0" d="M318.5 851.9L318.5 785.7L335.36 785.7L335.36 776.08L352.21 776.08L352.21 764.66L369.07 764.66L369.07 748.88L385.93 748.88L385.93 738.9L402.79 738.9L402.79 732.01L419.64 732.01L419.64 724.39L436.5 724.39L436.5 714.96L453.36 714.96L453.36 707.16L470.21 707.16L470.21 699.54L487.07 699.54L487.07 695.37L503.93 695.37L503.93 691.74L520.79 691.74L520.79 689.93L537.64 689.93L537.64 688.66L554.5 688.66L554.5 687.21L571.36 687.21L571.36 684.49L588.21 684.49L588.21 682.67L605.07 682.67L605.07 682.31L621.93 682.31L638.79 682.31L655.64 682.31L672.5 682.31L689.36 682.31L706.21 682.31L723.07 682.31L723.07 683.58L739.93 683.58L756.79 683.58L773.64 683.58L790.5 683.58L807.36 683.58L824.21 683.58L824.21 687.21L841.07 687.21L841.07 688.11L857.93 688.11L874.79 688.11L874.79 689.56L891.64 689.56L908.5 689.56L908.5 851.9 Z"/>
<path fill="#000000" d="M318.5 851.9L318.5 850.45L335.36 850.45L352.21 850.45L369.07 850.45L385.93 850.45L402.79 850.45L419.64 850.45L436.5 850.45L436.5 851.17L453.36 851.17L470.21 851.17L487.07 851.17L503.93 851.17L520.79 851.17L537.64 851.17L554.5 851.17L554.5 851.9L571.36 851.9L588.21 851.9L588.21 851.17L605.07 851.17L621.93 851.17L621.93 851.35L638.79 851.35L655.64 851.35L672.5 851.35L689.36 851.35L706.21 851.35L723.07 851.35L739.93 851.35L739.93 850.08L756.79 850.08L773.64 850.08L790.5 850.08L807.36 850.08L824.21 850.08L824.21 848.27L841.07 848.27L857.93 848.27L874.79 848.27L874.79 846.46L891.64 846.46L908.5 846.46L908.5 851.9 Z"/>
</g>
<path fill="none" stroke="#000" stroke-width="2.5" d="M293.9 669.75V853.15M277 851.9H293.9M277 815.72H293.9M277 779.54H293.9M277 743.36H293.9M277 707.18H293.9M277 671H293.9M325.68 856H901.32M326.93 856V872.2M343.79 856V872.2M360.64 856V872.2M377.5 856V872.2M394.36 856V872.2M411.21 856V872.2M428.07 856V872.2M444.93 856V872.2M461.79 856V872.2M478.64 856V872.2M495.5 856V872.2M512.36 856V872.2M529.21 856V872.2M546.07 856V872.2M562.93 856V872.2M579.79 856V872.2M596.64 856V872.2M613.5 856V872.2M630.36 856V872.2M647.21 856V872.2M664.07 856V872.2M680.93 856V872.2M697.79 856V872.2M714.64 856V872.2M731.5 856V872.2M748.36 856V872.2M765.21 856V872.2M782.07 856V872.2M798.93 856V872.2M815.79 856V872.2M832.64 856V872.2M849.5 856V872.2M866.36 856V872.2M883.21 856V872.2M900.07 856V872.2"/>
<g font-size="25" text-anchor="middle"><text transform="translate(326.93 911.9) scale(1 1)">15</text><text transform="translate(394.36 911.9) scale(1 1)">19</text><text transform="translate(461.79 911.9) scale(1 1)">23</text><text transform="translate(529.21 911.9) scale(1 1)">27</text><text transform="translate(596.64 911.9) scale(1 1)">31</text><text transform="translate(664.07 911.9) scale(1 1)">35</text><text transform="translate(731.5 911.9) scale(1 1)">39</text><text transform="translate(798.93 911.9) scale(1 1)">43</text><text transform="translate(866.36 911.9) scale(1 1)">47</text></g>
<g font-size="28.4" text-anchor="middle" letter-spacing="-2.9" stroke-width="0.1"><text transform="translate(256.46 854.2) rotate(-90) scale(1.105 1)">0.0</text><text transform="translate(256.46 781.84) rotate(-90) scale(1.105 1)">0.4</text><text transform="translate(256.46 709.48) rotate(-90) scale(1.105 1)">0.8</text></g></g>
<g><g shape-rendering="crispEdges">
<path fill="#FA8072" d="M1044.1 851.71L1044.1 665.8L1061.28 665.8L1078.45 665.8L1095.63 665.8L1112.81 665.8L1112.81 667.07L1129.99 667.07L1147.16 667.07L1164.34 667.07L1181.52 667.07L1198.69 667.07L1198.69 665.62L1215.87 665.62L1233.05 665.62L1233.05 667.07L1250.23 667.07L1267.4 667.07L1284.58 667.07L1301.76 667.07L1318.93 667.07L1336.11 667.07L1353.29 667.07L1370.47 667.07L1387.64 667.07L1404.82 667.07L1422 667.07L1439.17 667.07L1456.35 667.07L1473.53 667.07L1490.71 667.07L1507.88 667.07L1525.06 667.07L1525.06 666.16L1542.24 666.16L1542.24 667.43L1559.41 667.43L1576.59 667.43L1593.77 667.43L1610.95 667.43L1628.12 667.43L1628.12 666.16L1645.3 666.16L1645.3 851.71 Z"/>
<path fill="#BEBEBE" d="M1044.1 851.71L1044.1 667.98L1061.28 667.98L1078.45 667.98L1095.63 667.98L1112.81 667.98L1129.99 667.98L1147.16 667.98L1164.34 667.98L1164.34 669.25L1181.52 669.25L1181.52 670.7L1198.69 670.7L1198.69 671.6L1215.87 671.6L1215.87 672.51L1233.05 672.51L1233.05 674.69L1250.23 674.69L1250.23 676.14L1267.4 676.14L1267.4 676.68L1284.58 676.68L1284.58 677.59L1301.76 677.59L1301.76 678.5L1318.93 678.5L1318.93 679.4L1336.11 679.4L1336.11 680.13L1353.29 680.13L1353.29 680.67L1370.47 680.67L1370.47 681.58L1387.64 681.58L1404.82 681.58L1404.82 683.03L1422 683.03L1439.17 683.03L1456.35 683.03L1456.35 684.3L1473.53 684.3L1490.71 684.3L1507.88 684.3L1507.88 685.21L1525.06 685.21L1525.06 686.11L1542.24 686.11L1559.41 686.11L1576.59 686.11L1593.77 686.11L1610.95 686.11L1628.12 686.11L1628.12 686.66L1645.3 686.66L1645.3 851.71 Z"/>
<path fill="#F0E68C" d="M1044.1 851.71L1044.1 667.98L1061.28 667.98L1078.45 667.98L1095.63 667.98L1112.81 667.98L1129.99 667.98L1147.16 667.98L1164.34 667.98L1164.34 669.25L1181.52 669.25L1181.52 670.7L1198.69 670.7L1198.69 671.6L1215.87 671.6L1215.87 672.51L1233.05 672.51L1233.05 674.69L1250.23 674.69L1250.23 676.14L1267.4 676.14L1267.4 676.68L1284.58 676.68L1284.58 677.59L1301.76 677.59L1301.76 678.5L1318.93 678.5L1318.93 679.4L1336.11 679.4L1336.11 680.13L1353.29 680.13L1353.29 680.67L1370.47 680.67L1370.47 681.58L1387.64 681.58L1404.82 681.58L1404.82 683.03L1422 683.03L1439.17 683.03L1456.35 683.03L1456.35 684.3L1473.53 684.3L1490.71 684.3L1507.88 684.3L1507.88 685.21L1525.06 685.21L1525.06 686.11L1542.24 686.11L1559.41 686.11L1576.59 686.11L1593.77 686.11L1610.95 686.11L1628.12 686.11L1628.12 686.66L1645.3 686.66L1645.3 851.71 Z"/>
<path fill="#8B0000" d="M1044.1 851.71L1044.1 851.71L1061.28 851.71L1061.28 851.35L1078.45 851.35L1078.45 850.62L1095.63 850.62L1095.63 848.45L1112.81 848.45L1112.81 841.74L1129.99 841.74L1129.99 836.66L1147.16 836.66L1147.16 828.5L1164.34 828.5L1164.34 818.88L1181.52 818.88L1181.52 808.91L1198.69 808.91L1198.69 800.38L1215.87 800.38L1215.87 790.41L1233.05 790.41L1233.05 779.89L1250.23 779.89L1250.23 774.08L1267.4 774.08L1267.4 768.64L1284.58 768.64L1284.58 764.47L1301.76 764.47L1301.76 759.93L1318.93 759.93L1318.93 756.85L1336.11 756.85L1336.11 753.22L1353.29 753.22L1353.29 750.5L1370.47 750.5L1370.47 748.69L1387.64 748.69L1387.64 747.24L1404.82 747.24L1404.82 745.97L1422 745.97L1422 744.7L1439.17 744.7L1439.17 743.25L1456.35 743.25L1456.35 741.8L1473.53 741.8L1473.53 740.89L1490.71 740.89L1490.71 739.62L1507.88 739.62L1507.88 738.71L1525.06 738.71L1525.06 737.81L1542.24 737.81L1542.24 736.9L1559.41 736.9L1559.41 736.36L1576.59 736.36L1576.59 735.63L1593.77 735.63L1593.77 735.09L1610.95 735.09L1610.95 734.18L1628.12 734.18L1628.12 733.82L1645.3 733.82L1645.3 851.71 Z"/>
<path fill="#9ACD32" d="M1044.1 851.71L1044.1 851.71L1061.28 851.71L1061.28 851.35L1078.45 851.35L1078.45 850.62L1095.63 850.62L1095.63 848.45L1112.81 848.45L1112.81 843.91L1129.99 843.91L1129.99 836.66L1147.16 836.66L1147.16 830.31L1164.34 830.31L1164.34 822.15L1181.52 822.15L1181.52 813.44L1198.69 813.44L1198.69 804.92L1215.87 804.92L1215.87 796.21L1233.05 796.21L1233.05 788.59L1250.23 788.59L1250.23 784.06L1267.4 784.06L1267.4 778.62L1284.58 778.62L1284.58 775.53L1301.76 775.53L1301.76 771.36L1318.93 771.36L1318.93 769.55L1336.11 769.55L1336.11 766.83L1353.29 766.83L1353.29 765.01L1370.47 765.01L1370.47 763.2L1387.64 763.2L1387.64 762.29L1404.82 762.29L1404.82 761.02L1422 761.02L1422 759.57L1439.17 759.57L1439.17 758.3L1456.35 758.3L1456.35 757.4L1473.53 757.4L1473.53 756.49L1490.71 756.49L1490.71 755.04L1507.88 755.04L1507.88 754.13L1525.06 754.13L1525.06 753.22L1542.24 753.22L1542.24 752.32L1559.41 752.32L1559.41 751.41L1576.59 751.41L1576.59 750.5L1593.77 750.5L1593.77 749.6L1610.95 749.6L1610.95 748.69L1628.12 748.69L1628.12 748.15L1645.3 748.15L1645.3 851.71 Z"/>
<path fill="#00008B" d="M1044.1 851.71L1044.1 851.71L1061.28 851.71L1078.45 851.71L1095.63 851.71L1112.81 851.71L1129.99 851.71L1147.16 851.71L1164.34 851.71L1181.52 851.71L1198.69 851.71L1215.87 851.71L1233.05 851.71L1250.23 851.71L1267.4 851.71L1284.58 851.71L1301.76 851.71L1318.93 851.71L1336.11 851.71L1353.29 851.71L1370.47 851.71L1387.64 851.71L1404.82 851.71L1422 851.71L1439.17 851.71L1456.35 851.71L1473.53 851.71L1490.71 851.71L1507.88 851.71L1507.88 850.62L1525.06 850.62L1542.24 850.62L1559.41 850.62L1576.59 850.62L1576.59 849.35L1593.77 849.35L1610.95 849.35L1628.12 849.35L1628.12 846.63L1645.3 846.63L1645.3 851.71 Z"/>
</g>
<path fill="none" stroke="#000" stroke-width="2.5" d="M1019.6 665.25V852.85M1002.6 851.6H1019.6M1002.6 814.58H1019.6M1002.6 777.56H1019.6M1002.6 740.54H1019.6M1002.6 703.52H1019.6M1002.6 666.5H1019.6M1051.44 855.6H1637.96M1052.69 855.6V872.2M1069.87 855.6V872.2M1087.04 855.6V872.2M1104.22 855.6V872.2M1121.4 855.6V872.2M1138.57 855.6V872.2M1155.75 855.6V872.2M1172.93 855.6V872.2M1190.11 855.6V872.2M1207.28 855.6V872.2M1224.46 855.6V872.2M1241.64 855.6V872.2M1258.81 855.6V872.2M1275.99 855.6V872.2M1293.17 855.6V872.2M1310.35 855.6V872.2M1327.52 855.6V872.2M1344.7 855.6V872.2M1361.88 855.6V872.2M1379.05 855.6V872.2M1396.23 855.6V872.2M1413.41 855.6V872.2M1430.59 855.6V872.2M1447.76 855.6V872.2M1464.94 855.6V872.2M1482.12 855.6V872.2M1499.29 855.6V872.2M1516.47 855.6V872.2M1533.65 855.6V872.2M1550.83 855.6V872.2M1568 855.6V872.2M1585.18 855.6V872.2M1602.36 855.6V872.2M1619.53 855.6V872.2M1636.71 855.6V872.2"/>
<g font-size="25.5" text-anchor="middle"><text transform="translate(1052.69 913) scale(1 1)">15</text><text transform="translate(1121.4 913) scale(1 1)">19</text><text transform="translate(1190.11 913) scale(1 1)">23</text><text transform="translate(1258.81 913) scale(1 1)">27</text><text transform="translate(1327.52 913) scale(1 1)">31</text><text transform="translate(1396.23 913) scale(1 1)">35</text><text transform="translate(1464.94 913) scale(1 1)">39</text><text transform="translate(1533.65 913) scale(1 1)">43</text><text transform="translate(1602.36 913) scale(1 1)">47</text></g>
<g font-size="29.2" text-anchor="middle" letter-spacing="-2.9" stroke-width="0.1"><text transform="translate(981.4 853.9) rotate(-90) scale(1.105 1)">0.0</text><text transform="translate(981.4 779.86) rotate(-90) scale(1.105 1)">0.4</text><text transform="translate(981.4 705.82) rotate(-90) scale(1.105 1)">0.8</text></g></g>
<g><g shape-rendering="crispEdges">
<path fill="#FFC0CB" d="M319 1142.81L319 961.25L335.84 961.25L352.69 961.25L369.53 961.25L386.37 961.25L403.21 961.25L420.06 961.25L436.9 961.25L453.74 961.25L470.59 961.25L487.43 961.25L504.27 961.25L521.11 961.25L537.96 961.25L554.8 961.25L571.64 961.25L588.49 961.25L605.33 961.25L622.17 961.25L639.01 961.25L655.86 961.25L672.7 961.25L689.54 961.25L706.39 961.25L723.23 961.25L740.07 961.25L756.91 961.25L773.76 961.25L790.6 961.25L807.44 961.25L824.29 961.25L841.13 961.25L857.97 961.25L874.81 961.25L891.66 961.25L908.5 961.25L908.5 1142.81 Z"/>
<path fill="#A9A9A9" d="M319 1142.81L319 969.59L335.84 969.59L352.69 969.59L369.53 969.59L386.37 969.59L386.37 967.23L403.21 967.23L420.06 967.23L436.9 967.23L436.9 965.78L453.74 965.78L470.59 965.78L487.43 965.78L504.27 965.78L504.27 964.51L521.11 964.51L537.96 964.51L554.8 964.51L571.64 964.51L588.49 964.51L605.33 964.51L605.33 963.6L622.17 963.6L639.01 963.6L655.86 963.6L672.7 963.6L689.54 963.6L706.39 963.6L723.23 963.6L740.07 963.6L756.91 963.6L773.76 963.6L790.6 963.6L807.44 963.6L824.29 963.6L841.13 963.6L857.97 963.6L874.81 963.6L891.66 963.6L908.5 963.6L908.5 1142.81 Z"/>
<path fill="#A52A2A" d="M319 1142.81L319 1051.21L335.84 1051.21L335.84 1054.29L352.69 1054.29L352.69 1057.38L369.53 1057.38L369.53 1059.55L386.37 1059.55L386.37 1061.55L403.21 1061.55L403.21 1064.27L420.06 1064.27L420.06 1069.71L436.9 1069.71L436.9 1078.42L453.74 1078.42L453.74 1085.13L470.59 1085.13L470.59 1091.29L487.43 1091.29L487.43 1096.92L504.27 1096.92L504.27 1102.36L521.11 1102.36L521.11 1108.16L537.96 1108.16L537.96 1114.15L554.8 1114.15L554.8 1116.32L571.64 1116.32L571.64 1120.5L588.49 1120.5L588.49 1124.12L605.33 1124.12L605.33 1125.57L622.17 1125.57L622.17 1128.11L639.01 1128.11L639.01 1129.38L655.86 1129.38L655.86 1130.83L672.7 1130.83L672.7 1131.74L689.54 1131.74L689.54 1133.01L706.39 1133.01L706.39 1135.01L723.23 1135.01L723.23 1135.91L740.07 1135.91L756.91 1135.91L756.91 1134.82L773.76 1134.82L790.6 1134.82L807.44 1134.82L824.29 1134.82L824.29 1135.91L841.13 1135.91L841.13 1133.56L857.97 1133.56L857.97 1132.1L874.81 1132.1L874.81 1130.83L891.66 1130.83L891.66 1129.02L908.5 1129.02L908.5 1142.81 Z"/>
<path fill="#FFFF00" d="M319 1142.81L319 1051.21L335.84 1051.21L335.84 1054.29L352.69 1054.29L352.69 1058.83L369.53 1058.83L369.53 1061L386.37 1061L386.37 1063L403.21 1063L403.21 1065.72L420.06 1065.72L420.06 1071.16L436.9 1071.16L436.9 1078.42L453.74 1078.42L453.74 1085.13L470.59 1085.13L470.59 1092.74L487.43 1092.74L487.43 1098.37L504.27 1098.37L504.27 1103.81L521.11 1103.81L521.11 1108.16L537.96 1108.16L537.96 1114.15L554.8 1114.15L554.8 1117.78L571.64 1117.78L571.64 1120.5L588.49 1120.5L588.49 1124.12L605.33 1124.12L605.33 1127.03L622.17 1127.03L622.17 1129.56L639.01 1129.56L639.01 1130.83L655.86 1130.83L655.86 1132.29L672.7 1132.29L672.7 1133.19L689.54 1133.19L689.54 1134.46L706.39 1134.46L706.39 1135.01L723.23 1135.01L723.23 1135.91L740.07 1135.91L756.91 1135.91L756.91 1136.28L773.76 1136.28L790.6 1136.28L807.44 1136.28L824.29 1136.28L824.29 1135.91L841.13 1135.91L841.13 1135.01L857.97 1135.01L857.97 1133.56L874.81 1133.56L874.81 1132.29L891.66 1132.29L891.66 1130.47L908.5 1130.47L908.5 1142.81 Z"/>
<path fill="#0000FF" d="M319 1142.81L319 1122.31L335.84 1122.31L335.84 1119.95L352.69 1119.95L352.69 1115.42L369.53 1115.42L369.53 1114.15L386.37 1114.15L386.37 1112.7L403.21 1112.7L403.21 1114.51L420.06 1114.51L420.06 1115.42L436.9 1115.42L436.9 1116.87L453.74 1116.87L453.74 1118.68L470.59 1118.68L470.59 1120.86L487.43 1120.86L487.43 1124.49L504.27 1124.49L504.27 1127.39L521.11 1127.39L521.11 1128.66L537.96 1128.66L537.96 1131.38L554.8 1131.38L554.8 1134.64L571.64 1134.64L571.64 1135.37L588.49 1135.37L588.49 1138.63L605.33 1138.63L622.17 1138.63L622.17 1139L639.01 1139L639.01 1140.81L655.86 1140.81L655.86 1140.99L672.7 1140.99L672.7 1139.54L689.54 1139.54L689.54 1140.99L706.39 1140.99L723.23 1140.99L723.23 1139.54L740.07 1139.54L740.07 1140.99L756.91 1140.99L756.91 1139.54L773.76 1139.54L790.6 1139.54L807.44 1139.54L807.44 1140.99L824.29 1140.99L824.29 1138.63L841.13 1138.63L841.13 1139.54L857.97 1139.54L874.81 1139.54L874.81 1137.73L891.66 1137.73L891.66 1136.82L908.5 1136.82L908.5 1142.81 Z"/>
<path fill="#40E0D0" d="M319 1142.81L319 1125.39L335.84 1125.39L335.84 1121.4L352.69 1121.4L352.69 1118.32L369.53 1118.32L369.53 1115.96L386.37 1115.96L386.37 1112.7L403.21 1112.7L403.21 1114.51L420.06 1114.51L420.06 1115.42L436.9 1115.42L436.9 1116.87L453.74 1116.87L453.74 1118.68L470.59 1118.68L470.59 1120.86L487.43 1120.86L487.43 1124.49L504.27 1124.49L504.27 1127.39L521.11 1127.39L521.11 1130.11L537.96 1130.11L537.96 1131.38L554.8 1131.38L554.8 1134.64L571.64 1134.64L571.64 1136.82L588.49 1136.82L588.49 1138.63L605.33 1138.63L605.33 1140.08L622.17 1140.08L622.17 1140.45L639.01 1140.45L639.01 1140.81L655.86 1140.81L655.86 1140.99L672.7 1140.99L689.54 1140.99L706.39 1140.99L723.23 1140.99L740.07 1140.99L756.91 1140.99L773.76 1140.99L790.6 1140.99L807.44 1140.99L824.29 1140.99L824.29 1140.08L841.13 1140.08L841.13 1139.54L857.97 1139.54L874.81 1139.54L874.81 1137.73L891.66 1137.73L891.66 1136.82L908.5 1136.82L908.5 1142.81 Z"/>
<path fill="#000000" d="M319 1142.81L319 1141.35L335.84 1141.35L335.84 1140.08L352.69 1140.08L369.53 1140.08L386.37 1140.08L386.37 1141.9L403.21 1141.9L420.06 1141.9L436.9 1141.9L436.9 1141.35L453.74 1141.35L470.59 1141.35L487.43 1141.35L487.43 1142.44L504.27 1142.44L521.11 1142.44L537.96 1142.44L554.8 1142.44L571.64 1142.44L588.49 1142.44L605.33 1142.44L622.17 1142.44L639.01 1142.44L655.86 1142.44L672.7 1142.44L689.54 1142.44L706.39 1142.44L723.23 1142.44L740.07 1142.44L756.91 1142.44L773.76 1142.44L790.6 1142.44L807.44 1142.44L824.29 1142.44L824.29 1141.35L841.13 1141.35L857.97 1141.35L874.81 1141.35L891.66 1141.35L891.66 1142.26L908.5 1142.26L908.5 1142.81 Z"/>
</g>
<path fill="none" stroke="#000" stroke-width="2.5" d="M295.3 960.25V1143.55M278.2 1142.3H295.3M278.2 1106.14H295.3M278.2 1069.98H295.3M278.2 1033.82H295.3M278.2 997.66H295.3M278.2 961.5H295.3M326.17 1146.4H901.33M327.42 1146.4V1163.2M344.26 1146.4V1163.2M361.11 1146.4V1163.2M377.95 1146.4V1163.2M394.79 1146.4V1163.2M411.64 1146.4V1163.2M428.48 1146.4V1163.2M445.32 1146.4V1163.2M462.16 1146.4V1163.2M479.01 1146.4V1163.2M495.85 1146.4V1163.2M512.69 1146.4V1163.2M529.54 1146.4V1163.2M546.38 1146.4V1163.2M563.22 1146.4V1163.2M580.06 1146.4V1163.2M596.91 1146.4V1163.2M613.75 1146.4V1163.2M630.59 1146.4V1163.2M647.44 1146.4V1163.2M664.28 1146.4V1163.2M681.12 1146.4V1163.2M697.96 1146.4V1163.2M714.81 1146.4V1163.2M731.65 1146.4V1163.2M748.49 1146.4V1163.2M765.34 1146.4V1163.2M782.18 1146.4V1163.2M799.02 1146.4V1163.2M815.86 1146.4V1163.2M832.71 1146.4V1163.2M849.55 1146.4V1163.2M866.39 1146.4V1163.2M883.24 1146.4V1163.2M900.08 1146.4V1163.2"/>
<g font-size="25" text-anchor="middle"><text transform="translate(327.42 1203) scale(1 1)">15</text><text transform="translate(394.79 1203) scale(1 1)">19</text><text transform="translate(462.16 1203) scale(1 1)">23</text><text transform="translate(529.54 1203) scale(1 1)">27</text><text transform="translate(596.91 1203) scale(1 1)">31</text><text transform="translate(664.28 1203) scale(1 1)">35</text><text transform="translate(731.65 1203) scale(1 1)">39</text><text transform="translate(799.02 1203) scale(1 1)">43</text><text transform="translate(866.39 1203) scale(1 1)">47</text></g>
<g font-size="28.4" text-anchor="middle" letter-spacing="-2.9" stroke-width="0.1"><text transform="translate(257.9 1144.6) rotate(-90) scale(1.105 1)">0.0</text><text transform="translate(257.9 1072.28) rotate(-90) scale(1.105 1)">0.4</text><text transform="translate(257.9 999.96) rotate(-90) scale(1.105 1)">0.8</text></g></g>
<g><g shape-rendering="crispEdges">
<path fill="#FA8072" d="M1042.2 1144.44L1042.2 958.71L1059.44 958.71L1076.68 958.71L1093.92 958.71L1111.16 958.71L1128.4 958.71L1145.64 958.71L1162.88 958.71L1180.12 958.71L1197.36 958.71L1214.6 958.71L1231.84 958.71L1249.08 958.71L1266.32 958.71L1283.56 958.71L1300.8 958.71L1318.04 958.71L1335.28 958.71L1352.52 958.71L1369.76 958.71L1387 958.71L1404.24 958.71L1421.48 958.71L1438.72 958.71L1455.96 958.71L1473.2 958.71L1490.44 958.71L1507.68 958.71L1524.92 958.71L1542.16 958.71L1559.4 958.71L1576.64 958.71L1593.88 958.71L1611.12 958.71L1628.36 958.71L1645.6 958.71L1645.6 1144.44 Z"/>
<path fill="#BEBEBE" d="M1042.2 1144.44L1042.2 960.52L1059.44 960.52L1076.68 960.52L1093.92 960.52L1111.16 960.52L1128.4 960.52L1145.64 960.52L1162.88 960.52L1180.12 960.52L1197.36 960.52L1214.6 960.52L1231.84 960.52L1249.08 960.52L1266.32 960.52L1283.56 960.52L1300.8 960.52L1318.04 960.52L1335.28 960.52L1352.52 960.52L1369.76 960.52L1387 960.52L1404.24 960.52L1421.48 960.52L1438.72 960.52L1455.96 960.52L1473.2 960.52L1490.44 960.52L1507.68 960.52L1524.92 960.52L1542.16 960.52L1559.4 960.52L1576.64 960.52L1593.88 960.52L1611.12 960.52L1628.36 960.52L1645.6 960.52L1645.6 1144.44 Z"/>
<path fill="#F0E68C" d="M1042.2 1144.44L1042.2 960.52L1059.44 960.52L1076.68 960.52L1093.92 960.52L1111.16 960.52L1128.4 960.52L1145.64 960.52L1145.64 961.25L1162.88 961.25L1180.12 961.25L1197.36 961.25L1214.6 961.25L1214.6 962.33L1231.84 962.33L1249.08 962.33L1266.32 962.33L1283.56 962.33L1300.8 962.33L1300.8 964.15L1318.04 964.15L1335.28 964.15L1335.28 965.42L1352.52 965.42L1352.52 965.96L1369.76 965.96L1387 965.96L1404.24 965.96L1421.48 965.96L1438.72 965.96L1455.96 965.96L1455.96 967.78L1473.2 967.78L1490.44 967.78L1490.44 969.04L1507.68 969.04L1524.92 969.04L1542.16 969.04L1542.16 970.31L1559.4 970.31L1576.64 970.31L1593.88 970.31L1593.88 972.13L1611.12 972.13L1628.36 972.13L1645.6 972.13L1645.6 1144.44 Z"/>
<path fill="#8B0000" d="M1042.2 1144.44L1042.2 1144.07L1059.44 1144.07L1059.44 1143.71L1076.68 1143.71L1076.68 1141.9L1093.92 1141.9L1093.92 1135.91L1111.16 1135.91L1111.16 1127.03L1128.4 1127.03L1128.4 1116.69L1145.64 1116.69L1145.64 1102.18L1162.88 1102.18L1162.88 1084.76L1180.12 1084.76L1180.12 1067.71L1197.36 1067.71L1197.36 1051.39L1214.6 1051.39L1214.6 1036.88L1231.84 1036.88L1231.84 1024.18L1249.08 1024.18L1249.08 1012.39L1266.32 1012.39L1266.32 1003.69L1283.56 1003.69L1283.56 996.43L1300.8 996.43L1300.8 992.44L1318.04 992.44L1318.04 987.91L1335.28 987.91L1335.28 983.74L1352.52 983.74L1352.52 981.02L1369.76 981.02L1369.76 980.83L1387 980.83L1387 978.3L1404.24 978.3L1404.24 979.38L1421.48 979.38L1421.48 977.39L1438.72 977.39L1455.96 977.39L1455.96 978.11L1473.2 978.11L1490.44 978.11L1490.44 977.39L1507.68 977.39L1524.92 977.39L1542.16 977.39L1559.4 977.39L1559.4 979.38L1576.64 979.38L1593.88 979.38L1593.88 978.84L1611.12 978.84L1628.36 978.84L1628.36 981.2L1645.6 981.2L1645.6 1144.44 Z"/>
<path fill="#9ACD32" d="M1042.2 1144.44L1042.2 1144.07L1059.44 1144.07L1059.44 1143.71L1076.68 1143.71L1076.68 1141.9L1093.92 1141.9L1093.92 1135.91L1111.16 1135.91L1111.16 1128.66L1128.4 1128.66L1128.4 1118.32L1145.64 1118.32L1145.64 1103.81L1162.88 1103.81L1162.88 1086.4L1180.12 1086.4L1180.12 1069.35L1197.36 1069.35L1197.36 1053.02L1214.6 1053.02L1214.6 1038.51L1231.84 1038.51L1231.84 1025.82L1249.08 1025.82L1249.08 1014.03L1266.32 1014.03L1266.32 1005.32L1283.56 1005.32L1283.56 998.07L1300.8 998.07L1300.8 994.07L1318.04 994.07L1318.04 989.54L1335.28 989.54L1335.28 985.37L1352.52 985.37L1352.52 982.65L1369.76 982.65L1369.76 980.83L1387 980.83L1387 979.93L1404.24 979.93L1404.24 979.38L1421.48 979.38L1421.48 979.02L1438.72 979.02L1455.96 979.02L1455.96 978.11L1473.2 978.11L1490.44 978.11L1490.44 979.02L1507.68 979.02L1524.92 979.02L1542.16 979.02L1559.4 979.02L1559.4 979.38L1576.64 979.38L1593.88 979.38L1593.88 980.47L1611.12 980.47L1628.36 980.47L1628.36 981.2L1645.6 981.2L1645.6 1144.44 Z"/>
<path fill="#00008B" d="M1042.2 1144.44L1042.2 1144.44L1059.44 1144.44L1059.44 1144.07L1076.68 1144.07L1076.68 1143.71L1093.92 1143.71L1093.92 1142.62L1111.16 1142.62L1111.16 1138.63L1128.4 1138.63L1128.4 1132.83L1145.64 1132.83L1145.64 1125.39L1162.88 1125.39L1162.88 1114.15L1180.12 1114.15L1180.12 1102.36L1197.36 1102.36L1197.36 1090.21L1214.6 1090.21L1214.6 1076.42L1231.84 1076.42L1231.84 1061.55L1249.08 1061.55L1249.08 1048.49L1266.32 1048.49L1266.32 1038.51L1283.56 1038.51L1283.56 1028.36L1300.8 1028.36L1300.8 1019.83L1318.04 1019.83L1318.04 1012.21L1335.28 1012.21L1335.28 1005.32L1352.52 1005.32L1352.52 1001.69L1369.76 1001.69L1369.76 998.61L1387 998.61L1387 996.8L1404.24 996.8L1404.24 995.34L1421.48 995.34L1421.48 994.07L1438.72 994.07L1438.72 993.53L1455.96 993.53L1455.96 992.08L1473.2 992.08L1490.44 992.08L1507.68 992.08L1524.92 992.08L1542.16 992.08L1559.4 992.08L1576.64 992.08L1593.88 992.08L1593.88 993.53L1611.12 993.53L1628.36 993.53L1645.6 993.53L1645.6 1144.44 Z"/>
</g>
<path fill="none" stroke="#000" stroke-width="2.5" d="M1017.7 957.75V1145.75M1000.2 1144.5H1017.7M1000.2 1107.4H1017.7M1000.2 1070.3H1017.7M1000.2 1033.2H1017.7M1000.2 996.1H1017.7M1000.2 959H1017.7M1049.57 1148.5H1638.23M1050.82 1148.5V1165.8M1068.06 1148.5V1165.8M1085.3 1148.5V1165.8M1102.54 1148.5V1165.8M1119.78 1148.5V1165.8M1137.02 1148.5V1165.8M1154.26 1148.5V1165.8M1171.5 1148.5V1165.8M1188.74 1148.5V1165.8M1205.98 1148.5V1165.8M1223.22 1148.5V1165.8M1240.46 1148.5V1165.8M1257.7 1148.5V1165.8M1274.94 1148.5V1165.8M1292.18 1148.5V1165.8M1309.42 1148.5V1165.8M1326.66 1148.5V1165.8M1343.9 1148.5V1165.8M1361.14 1148.5V1165.8M1378.38 1148.5V1165.8M1395.62 1148.5V1165.8M1412.86 1148.5V1165.8M1430.1 1148.5V1165.8M1447.34 1148.5V1165.8M1464.58 1148.5V1165.8M1481.82 1148.5V1165.8M1499.06 1148.5V1165.8M1516.3 1148.5V1165.8M1533.54 1148.5V1165.8M1550.78 1148.5V1165.8M1568.02 1148.5V1165.8M1585.26 1148.5V1165.8M1602.5 1148.5V1165.8M1619.74 1148.5V1165.8M1636.98 1148.5V1165.8"/>
<g font-size="26" text-anchor="middle"><text transform="translate(1050.82 1207.3) scale(1 1)">15</text><text transform="translate(1119.78 1207.3) scale(1 1)">19</text><text transform="translate(1188.74 1207.3) scale(1 1)">23</text><text transform="translate(1257.7 1207.3) scale(1 1)">27</text><text transform="translate(1326.66 1207.3) scale(1 1)">31</text><text transform="translate(1395.62 1207.3) scale(1 1)">35</text><text transform="translate(1464.58 1207.3) scale(1 1)">39</text><text transform="translate(1533.54 1207.3) scale(1 1)">43</text><text transform="translate(1602.5 1207.3) scale(1 1)">47</text></g>
<g font-size="29.2" text-anchor="middle" letter-spacing="-2.9" stroke-width="0.1"><text transform="translate(979.5 1146.8) rotate(-90) scale(1.105 1)">0.0</text><text transform="translate(979.5 1072.6) rotate(-90) scale(1.105 1)">0.4</text><text transform="translate(979.5 998.4) rotate(-90) scale(1.105 1)">0.8</text></g></g>
<g><g shape-rendering="crispEdges">
<path fill="#FFC0CB" d="M319 1434.54L319 1256.25L335.61 1256.25L352.23 1256.25L368.84 1256.25L385.46 1256.25L402.07 1256.25L418.69 1256.25L435.3 1256.25L451.91 1256.25L468.53 1256.25L485.14 1256.25L501.76 1256.25L518.37 1256.25L534.99 1256.25L551.6 1256.25L568.21 1256.25L584.83 1256.25L601.44 1256.25L618.06 1256.25L634.67 1256.25L651.29 1256.25L667.9 1256.25L684.51 1256.25L701.13 1256.25L717.74 1256.25L734.36 1256.25L750.97 1256.25L767.59 1256.25L784.2 1256.25L800.81 1256.25L817.43 1256.25L834.04 1256.25L850.66 1256.25L867.27 1256.25L883.89 1256.25L900.5 1256.25L900.5 1434.54 Z"/>
<path fill="#A9A9A9" d="M319 1434.54L319 1262.78L335.61 1262.78L352.23 1262.78L368.84 1262.78L385.46 1262.78L385.46 1261.51L402.07 1261.51L418.69 1261.51L435.3 1261.51L435.3 1261.32L451.91 1261.32L468.53 1261.32L485.14 1261.32L501.76 1261.32L518.37 1261.32L534.99 1261.32L534.99 1260.6L551.6 1260.6L568.21 1260.6L584.83 1260.6L601.44 1260.6L601.44 1261.32L618.06 1261.32L634.67 1261.32L651.29 1261.32L667.9 1261.32L684.51 1261.32L701.13 1261.32L717.74 1261.32L734.36 1261.32L734.36 1260.6L750.97 1260.6L750.97 1261.32L767.59 1261.32L767.59 1260.6L784.2 1260.6L784.2 1261.32L800.81 1261.32L800.81 1260.6L817.43 1260.6L834.04 1260.6L850.66 1260.6L867.27 1260.6L867.27 1261.32L883.89 1261.32L900.5 1261.32L900.5 1434.54 Z"/>
<path fill="#A52A2A" d="M319 1434.54L319 1262.78L335.61 1262.78L352.23 1262.78L368.84 1262.78L385.46 1262.78L385.46 1262.23L402.07 1262.23L418.69 1262.23L435.3 1262.23L435.3 1261.32L451.91 1261.32L468.53 1261.32L485.14 1261.32L501.76 1261.32L518.37 1261.32L534.99 1261.32L551.6 1261.32L568.21 1261.32L584.83 1261.32L601.44 1261.32L618.06 1261.32L634.67 1261.32L651.29 1261.32L667.9 1261.32L684.51 1261.32L701.13 1261.32L717.74 1261.32L734.36 1261.32L750.97 1261.32L767.59 1261.32L784.2 1261.32L800.81 1261.32L817.43 1261.32L834.04 1261.32L850.66 1261.32L867.27 1261.32L883.89 1261.32L900.5 1261.32L900.5 1434.54 Z"/>
<path fill="#FFFF00" d="M319 1434.54L319 1341.67L335.61 1341.67L335.61 1343.31L352.23 1343.31L352.23 1344.4L368.84 1344.4L368.84 1344.76L385.46 1344.76L402.07 1344.76L418.69 1344.76L418.69 1345.67L435.3 1345.67L435.3 1346.93L451.91 1346.93L451.91 1349.84L468.53 1349.84L468.53 1351.47L485.14 1351.47L485.14 1352.01L501.76 1352.01L501.76 1353.46L518.37 1353.46L518.37 1355.64L534.99 1355.64L534.99 1357.45L551.6 1357.45L551.6 1359.27L568.21 1359.27L568.21 1361.44L584.83 1361.44L584.83 1366.89L601.44 1366.89L601.44 1370.15L618.06 1370.15L618.06 1373.78L634.67 1373.78L634.67 1378.31L651.29 1378.31L651.29 1384.12L667.9 1384.12L667.9 1389.56L684.51 1389.56L684.51 1393.73L701.13 1393.73L701.13 1400.44L717.74 1400.44L717.74 1404.98L734.36 1404.98L734.36 1409.51L750.97 1409.51L750.97 1412.78L767.59 1412.78L767.59 1415.5L784.2 1415.5L784.2 1416.04L800.81 1416.04L800.81 1418.22L817.43 1418.22L834.04 1418.22L834.04 1417.31L850.66 1417.31L850.66 1416.95L867.27 1416.95L867.27 1414.59L883.89 1414.59L883.89 1411.87L900.5 1411.87L900.5 1434.54 Z"/>
<path fill="#0000FF" d="M319 1434.54L319 1411.69L335.61 1411.69L335.61 1404.79L352.23 1404.79L352.23 1398.08L368.84 1398.08L368.84 1390.83L385.46 1390.83L385.46 1387.93L402.07 1387.93L402.07 1387.74L418.69 1387.74L418.69 1387.02L435.3 1387.02L435.3 1389.38L451.91 1389.38L451.91 1394.64L468.53 1394.64L468.53 1397.36L485.14 1397.36L485.14 1400.62L501.76 1400.62L501.76 1406.79L518.37 1406.79L518.37 1409.33L534.99 1409.33L534.99 1411.69L551.6 1411.69L551.6 1416.4L568.21 1416.4L568.21 1419.12L584.83 1419.12L584.83 1418.94L601.44 1418.94L601.44 1420.21L618.06 1420.21L618.06 1423.66L634.67 1423.66L634.67 1424.56L651.29 1424.56L651.29 1424.2L667.9 1424.2L667.9 1425.29L684.51 1425.29L684.51 1427.83L701.13 1427.83L701.13 1426.92L717.74 1426.92L717.74 1429.64L734.36 1429.64L734.36 1428.37L750.97 1428.37L750.97 1430.37L767.59 1430.37L767.59 1429.28L784.2 1429.28L800.81 1429.28L800.81 1430.37L817.43 1430.37L817.43 1428.37L834.04 1428.37L834.04 1427.1L850.66 1427.1L850.66 1428.19L867.27 1428.19L867.27 1424.38L883.89 1424.38L883.89 1423.66L900.5 1423.66L900.5 1434.54 Z"/>
<path fill="#40E0D0" d="M319 1434.54L319 1413.32L335.61 1413.32L335.61 1406.43L352.23 1406.43L352.23 1399.72L368.84 1399.72L368.84 1392.46L385.46 1392.46L385.46 1389.56L402.07 1389.56L402.07 1387.74L418.69 1387.74L418.69 1388.65L435.3 1388.65L435.3 1391.01L451.91 1391.01L451.91 1394.64L468.53 1394.64L468.53 1397.36L485.14 1397.36L485.14 1402.26L501.76 1402.26L501.76 1406.79L518.37 1406.79L518.37 1410.96L534.99 1410.96L534.99 1413.32L551.6 1413.32L551.6 1416.4L568.21 1416.4L568.21 1419.12L584.83 1419.12L584.83 1420.57L601.44 1420.57L601.44 1421.84L618.06 1421.84L618.06 1423.66L634.67 1423.66L634.67 1424.56L651.29 1424.56L651.29 1425.83L667.9 1425.83L667.9 1426.92L684.51 1426.92L684.51 1427.83L701.13 1427.83L701.13 1428.56L717.74 1428.56L717.74 1429.64L734.36 1429.64L734.36 1430.01L750.97 1430.01L750.97 1430.37L767.59 1430.37L767.59 1430.91L784.2 1430.91L800.81 1430.91L800.81 1430.37L817.43 1430.37L817.43 1430.01L834.04 1430.01L834.04 1428.74L850.66 1428.74L850.66 1428.19L867.27 1428.19L867.27 1426.02L883.89 1426.02L883.89 1423.66L900.5 1423.66L900.5 1434.54 Z"/>
<path fill="#000000" d="M319 1434.54L319 1433.63L335.61 1433.63L352.23 1433.63L368.84 1433.63L385.46 1433.63L402.07 1433.63L418.69 1433.63L435.3 1433.63L451.91 1433.63L451.91 1434.54L468.53 1434.54L485.14 1434.54L501.76 1434.54L518.37 1434.54L534.99 1434.54L551.6 1434.54L568.21 1434.54L584.83 1434.54L601.44 1434.54L618.06 1434.54L634.67 1434.54L651.29 1434.54L667.9 1434.54L684.51 1434.54L701.13 1434.54L701.13 1432.73L717.74 1432.73L734.36 1432.73L750.97 1432.73L767.59 1432.73L767.59 1434L784.2 1434L800.81 1434L817.43 1434L817.43 1431.82L834.04 1431.82L850.66 1431.82L850.66 1430.37L867.27 1430.37L883.89 1430.37L900.5 1430.37L900.5 1434.54 Z"/>
</g>
<path fill="none" stroke="#000" stroke-width="2.5" d="M295.3 1255.25V1435.55M278.9 1434.3H295.3M278.9 1398.74H295.3M278.9 1363.18H295.3M278.9 1327.62H295.3M278.9 1292.06H295.3M278.9 1256.5H295.3M326.06 1438.9H893.44M327.31 1438.9V1454.6M343.92 1438.9V1454.6M360.54 1438.9V1454.6M377.15 1438.9V1454.6M393.76 1438.9V1454.6M410.38 1438.9V1454.6M426.99 1438.9V1454.6M443.61 1438.9V1454.6M460.22 1438.9V1454.6M476.84 1438.9V1454.6M493.45 1438.9V1454.6M510.06 1438.9V1454.6M526.68 1438.9V1454.6M543.29 1438.9V1454.6M559.91 1438.9V1454.6M576.52 1438.9V1454.6M593.14 1438.9V1454.6M609.75 1438.9V1454.6M626.36 1438.9V1454.6M642.98 1438.9V1454.6M659.59 1438.9V1454.6M676.21 1438.9V1454.6M692.82 1438.9V1454.6M709.44 1438.9V1454.6M726.05 1438.9V1454.6M742.66 1438.9V1454.6M759.28 1438.9V1454.6M775.89 1438.9V1454.6M792.51 1438.9V1454.6M809.12 1438.9V1454.6M825.74 1438.9V1454.6M842.35 1438.9V1454.6M858.96 1438.9V1454.6M875.58 1438.9V1454.6M892.19 1438.9V1454.6"/>
<g font-size="25" text-anchor="middle"><text transform="translate(327.31 1494.5) scale(1 1)">15</text><text transform="translate(393.76 1494.5) scale(1 1)">19</text><text transform="translate(460.22 1494.5) scale(1 1)">23</text><text transform="translate(526.68 1494.5) scale(1 1)">27</text><text transform="translate(593.14 1494.5) scale(1 1)">31</text><text transform="translate(659.59 1494.5) scale(1 1)">35</text><text transform="translate(726.05 1494.5) scale(1 1)">39</text><text transform="translate(792.51 1494.5) scale(1 1)">43</text><text transform="translate(858.96 1494.5) scale(1 1)">47</text></g>
<g font-size="28.4" text-anchor="middle" letter-spacing="-2.9" stroke-width="0.1"><text transform="translate(258.54 1436.6) rotate(-90) scale(1.105 1)">0.0</text><text transform="translate(258.54 1365.48) rotate(-90) scale(1.105 1)">0.4</text><text transform="translate(258.54 1294.36) rotate(-90) scale(1.105 1)">0.8</text></g></g>
<g><g shape-rendering="crispEdges">
<path fill="#FA8072" d="M1037.2 1436.43L1037.2 1249.07L1054.62 1249.07L1072.05 1249.07L1089.47 1249.07L1106.89 1249.07L1124.31 1249.07L1141.74 1249.07L1159.16 1249.07L1176.58 1249.07L1194.01 1249.07L1211.43 1249.07L1228.85 1249.07L1246.27 1249.07L1263.7 1249.07L1281.12 1249.07L1298.54 1249.07L1315.97 1249.07L1333.39 1249.07L1350.81 1249.07L1368.23 1249.07L1385.66 1249.07L1403.08 1249.07L1420.5 1249.07L1437.93 1249.07L1455.35 1249.07L1472.77 1249.07L1490.19 1249.07L1507.62 1249.07L1525.04 1249.07L1542.46 1249.07L1559.89 1249.07L1577.31 1249.07L1594.73 1249.07L1612.15 1249.07L1629.58 1249.07L1647 1249.07L1647 1436.43 Z"/>
<path fill="#BEBEBE" d="M1037.2 1436.43L1037.2 1250.52L1054.62 1250.52L1072.05 1250.52L1089.47 1250.52L1106.89 1250.52L1124.31 1250.52L1141.74 1250.52L1141.74 1250.88L1159.16 1250.88L1159.16 1251.25L1176.58 1251.25L1176.58 1252.33L1194.01 1252.33L1194.01 1253.06L1211.43 1253.06L1228.85 1253.06L1246.27 1253.06L1263.7 1253.06L1263.7 1253.6L1281.12 1253.6L1298.54 1253.6L1315.97 1253.6L1333.39 1253.6L1333.39 1252.7L1350.81 1252.7L1350.81 1251.25L1368.23 1251.25L1385.66 1251.25L1403.08 1251.25L1420.5 1251.25L1437.93 1251.25L1455.35 1251.25L1472.77 1251.25L1490.19 1251.25L1507.62 1251.25L1525.04 1251.25L1542.46 1251.25L1559.89 1251.25L1577.31 1251.25L1594.73 1251.25L1612.15 1251.25L1629.58 1251.25L1647 1251.25L1647 1436.43 Z"/>
<path fill="#F0E68C" d="M1037.2 1436.43L1037.2 1250.52L1054.62 1250.52L1072.05 1250.52L1089.47 1250.52L1106.89 1250.52L1124.31 1250.52L1141.74 1250.52L1141.74 1251.79L1159.16 1251.79L1159.16 1253.06L1176.58 1253.06L1176.58 1254.15L1194.01 1254.15L1194.01 1255.42L1211.43 1255.42L1228.85 1255.42L1246.27 1255.42L1263.7 1255.42L1263.7 1257.59L1281.12 1257.59L1298.54 1257.59L1315.97 1257.59L1333.39 1257.59L1333.39 1258.14L1350.81 1258.14L1350.81 1259.04L1368.23 1259.04L1385.66 1259.04L1385.66 1260.86L1403.08 1260.86L1420.5 1260.86L1437.93 1260.86L1437.93 1262.13L1455.35 1262.13L1472.77 1262.13L1490.19 1262.13L1507.62 1262.13L1525.04 1262.13L1542.46 1262.13L1559.89 1262.13L1577.31 1262.13L1594.73 1262.13L1594.73 1263.58L1612.15 1263.58L1612.15 1265.03L1629.58 1265.03L1629.58 1266.84L1647 1266.84L1647 1436.43 Z"/>
<path fill="#8B0000" d="M1037.2 1436.43L1037.2 1436.07L1054.62 1436.07L1054.62 1435.53L1072.05 1435.53L1072.05 1428.63L1089.47 1428.63L1089.47 1419.56L1106.89 1419.56L1106.89 1403.6L1124.31 1403.6L1124.31 1382.74L1141.74 1382.74L1141.74 1360.07L1159.16 1360.07L1159.16 1339.76L1176.58 1339.76L1176.58 1321.98L1194.01 1321.98L1194.01 1308.38L1211.43 1308.38L1211.43 1296.59L1228.85 1296.59L1228.85 1288.07L1246.27 1288.07L1246.27 1282.08L1263.7 1282.08L1263.7 1276.64L1281.12 1276.64L1281.12 1274.46L1298.54 1274.46L1298.54 1272.1L1315.97 1272.1L1315.97 1270.47L1333.39 1270.47L1333.39 1269.02L1350.81 1269.02L1350.81 1267.57L1368.23 1267.57L1385.66 1267.57L1403.08 1267.57L1403.08 1266.66L1420.5 1266.66L1437.93 1266.66L1455.35 1266.66L1472.77 1266.66L1490.19 1266.66L1507.62 1266.66L1525.04 1266.66L1542.46 1266.66L1559.89 1266.66L1577.31 1266.66L1594.73 1266.66L1594.73 1268.11L1612.15 1268.11L1629.58 1268.11L1629.58 1269.93L1647 1269.93L1647 1436.43 Z"/>
<path fill="#9ACD32" d="M1037.2 1436.43L1037.2 1436.07L1054.62 1436.07L1054.62 1435.53L1072.05 1435.53L1072.05 1430.45L1089.47 1430.45L1089.47 1421.38L1106.89 1421.38L1106.89 1405.42L1124.31 1405.42L1124.31 1384.56L1141.74 1384.56L1141.74 1361.89L1159.16 1361.89L1159.16 1341.57L1176.58 1341.57L1176.58 1323.8L1194.01 1323.8L1194.01 1310.19L1211.43 1310.19L1211.43 1298.4L1228.85 1298.4L1228.85 1289.88L1246.27 1289.88L1246.27 1283.89L1263.7 1283.89L1263.7 1278.45L1281.12 1278.45L1281.12 1276.28L1298.54 1276.28L1298.54 1273.92L1315.97 1273.92L1315.97 1272.29L1333.39 1272.29L1333.39 1270.83L1350.81 1270.83L1350.81 1269.93L1368.23 1269.93L1385.66 1269.93L1403.08 1269.93L1403.08 1269.02L1420.5 1269.02L1437.93 1269.02L1455.35 1269.02L1472.77 1269.02L1490.19 1269.02L1507.62 1269.02L1525.04 1269.02L1542.46 1269.02L1559.89 1269.02L1577.31 1269.02L1594.73 1269.02L1594.73 1270.47L1612.15 1270.47L1629.58 1270.47L1629.58 1272.29L1647 1272.29L1647 1436.43 Z"/>
<path fill="#00008B" d="M1037.2 1436.43L1037.2 1436.43L1054.62 1436.43L1054.62 1435.89L1072.05 1435.89L1072.05 1435.53L1089.47 1435.53L1089.47 1431.9L1106.89 1431.9L1106.89 1426.46L1124.31 1426.46L1124.31 1415.57L1141.74 1415.57L1141.74 1404.15L1159.16 1404.15L1159.16 1391.09L1176.58 1391.09L1176.58 1375.67L1194.01 1375.67L1194.01 1362.07L1211.43 1362.07L1211.43 1347.01L1228.85 1347.01L1228.85 1333.95L1246.27 1333.95L1246.27 1322.16L1263.7 1322.16L1263.7 1312.01L1281.12 1312.01L1281.12 1303.12L1298.54 1303.12L1298.54 1298.59L1315.97 1298.59L1315.97 1294.05L1333.39 1294.05L1333.39 1288.97L1350.81 1288.97L1350.81 1287.52L1368.23 1287.52L1368.23 1286.25L1385.66 1286.25L1385.66 1285.34L1403.08 1285.34L1403.08 1283.89L1420.5 1283.89L1437.93 1283.89L1455.35 1283.89L1455.35 1282.99L1472.77 1282.99L1490.19 1282.99L1490.19 1281.72L1507.62 1281.72L1525.04 1281.72L1542.46 1281.72L1559.89 1281.72L1577.31 1281.72L1577.31 1282.62L1594.73 1282.62L1612.15 1282.62L1612.15 1283.89L1629.58 1283.89L1647 1283.89L1647 1436.43 Z"/>
</g>
<path fill="none" stroke="#000" stroke-width="2.5" d="M1012 1247.75V1437.55M995.3 1436.3H1012M995.3 1398.84H1012M995.3 1361.38H1012M995.3 1323.92H1012M995.3 1286.46H1012M995.3 1249H1012M1044.66 1440.4H1639.54M1045.91 1440.4V1457.8M1063.33 1440.4V1457.8M1080.76 1440.4V1457.8M1098.18 1440.4V1457.8M1115.6 1440.4V1457.8M1133.03 1440.4V1457.8M1150.45 1440.4V1457.8M1167.87 1440.4V1457.8M1185.29 1440.4V1457.8M1202.72 1440.4V1457.8M1220.14 1440.4V1457.8M1237.56 1440.4V1457.8M1254.99 1440.4V1457.8M1272.41 1440.4V1457.8M1289.83 1440.4V1457.8M1307.25 1440.4V1457.8M1324.68 1440.4V1457.8M1342.1 1440.4V1457.8M1359.52 1440.4V1457.8M1376.95 1440.4V1457.8M1394.37 1440.4V1457.8M1411.79 1440.4V1457.8M1429.21 1440.4V1457.8M1446.64 1440.4V1457.8M1464.06 1440.4V1457.8M1481.48 1440.4V1457.8M1498.91 1440.4V1457.8M1516.33 1440.4V1457.8M1533.75 1440.4V1457.8M1551.17 1440.4V1457.8M1568.6 1440.4V1457.8M1586.02 1440.4V1457.8M1603.44 1440.4V1457.8M1620.87 1440.4V1457.8M1638.29 1440.4V1457.8"/>
<g font-size="26" text-anchor="middle"><text transform="translate(1045.91 1498.6) scale(1 1)">15</text><text transform="translate(1115.6 1498.6) scale(1 1)">19</text><text transform="translate(1185.29 1498.6) scale(1 1)">23</text><text transform="translate(1254.99 1498.6) scale(1 1)">27</text><text transform="translate(1324.68 1498.6) scale(1 1)">31</text><text transform="translate(1394.37 1498.6) scale(1 1)">35</text><text transform="translate(1464.06 1498.6) scale(1 1)">39</text><text transform="translate(1533.75 1498.6) scale(1 1)">43</text><text transform="translate(1603.44 1498.6) scale(1 1)">47</text></g>
<g font-size="29.2" text-anchor="middle" letter-spacing="-2.9" stroke-width="0.1"><text transform="translate(973.8 1438.6) rotate(-90) scale(1.105 1)">0.0</text><text transform="translate(973.8 1363.68) rotate(-90) scale(1.105 1)">0.4</text><text transform="translate(973.8 1288.76) rotate(-90) scale(1.105 1)">0.8</text></g></g>
<g><g shape-rendering="crispEdges">
<path fill="#FFC0CB" d="M320.7 1726.9L320.7 1548.25L337.33 1548.25L353.96 1548.25L370.59 1548.25L387.21 1548.25L403.84 1548.25L420.47 1548.25L437.1 1548.25L453.73 1548.25L470.36 1548.25L486.99 1548.25L503.61 1548.25L520.24 1548.25L536.87 1548.25L553.5 1548.25L570.13 1548.25L586.76 1548.25L603.39 1548.25L620.01 1548.25L636.64 1548.25L653.27 1548.25L669.9 1548.25L686.53 1548.25L703.16 1548.25L719.79 1548.25L736.41 1548.25L753.04 1548.25L769.67 1548.25L786.3 1548.25L802.93 1548.25L819.56 1548.25L836.19 1548.25L852.81 1548.25L869.44 1548.25L886.07 1548.25L902.7 1548.25L902.7 1726.9 Z"/>
<path fill="#A9A9A9" d="M320.7 1726.9L320.7 1555.68L337.33 1555.68L337.33 1556.59L353.96 1556.59L353.96 1554.41L370.59 1554.41L387.21 1554.41L387.21 1555.14L403.84 1555.14L403.84 1552.96L420.47 1552.96L420.47 1553.32L437.1 1553.32L437.1 1552.6L453.73 1552.6L470.36 1552.6L486.99 1552.6L486.99 1553.14L503.61 1553.14L520.24 1553.14L536.87 1553.14L536.87 1552.42L553.5 1552.42L570.13 1552.42L570.13 1552.6L586.76 1552.6L603.39 1552.6L603.39 1552.24L620.01 1552.24L636.64 1552.24L636.64 1553.87L653.27 1553.87L669.9 1553.87L686.53 1553.87L703.16 1553.87L703.16 1554.05L719.79 1554.05L719.79 1555.5L736.41 1555.5L753.04 1555.5L753.04 1555.86L769.67 1555.86L769.67 1556.59L786.3 1556.59L786.3 1558.4L802.93 1558.4L819.56 1558.4L836.19 1558.4L836.19 1559.67L852.81 1559.67L869.44 1559.67L869.44 1558.95L886.07 1558.95L886.07 1559.67L902.7 1559.67L902.7 1726.9 Z"/>
<path fill="#A52A2A" d="M320.7 1726.9L320.7 1555.68L337.33 1555.68L337.33 1556.59L353.96 1556.59L353.96 1554.41L370.59 1554.41L387.21 1554.41L387.21 1555.14L403.84 1555.14L403.84 1552.96L420.47 1552.96L420.47 1553.32L437.1 1553.32L437.1 1552.6L453.73 1552.6L470.36 1552.6L486.99 1552.6L486.99 1553.14L503.61 1553.14L520.24 1553.14L536.87 1553.14L536.87 1552.42L553.5 1552.42L570.13 1552.42L570.13 1552.6L586.76 1552.6L603.39 1552.6L603.39 1552.24L620.01 1552.24L636.64 1552.24L636.64 1553.87L653.27 1553.87L669.9 1553.87L686.53 1553.87L703.16 1553.87L703.16 1555.14L719.79 1555.14L719.79 1556.59L736.41 1556.59L753.04 1556.59L753.04 1556.95L769.67 1556.95L769.67 1556.59L786.3 1556.59L786.3 1558.4L802.93 1558.4L819.56 1558.4L836.19 1558.4L836.19 1559.67L852.81 1559.67L869.44 1559.67L869.44 1560.22L886.07 1560.22L886.07 1559.67L902.7 1559.67L902.7 1726.9 Z"/>
<path fill="#FFFF00" d="M320.7 1726.9L320.7 1556.95L337.33 1556.95L337.33 1556.59L353.96 1556.59L353.96 1555.68L370.59 1555.68L387.21 1555.68L387.21 1555.14L403.84 1555.14L403.84 1554.23L420.47 1554.23L420.47 1553.32L437.1 1553.32L437.1 1554.78L453.73 1554.78L470.36 1554.78L486.99 1554.78L486.99 1554.23L503.61 1554.23L520.24 1554.23L536.87 1554.23L536.87 1552.42L553.5 1552.42L570.13 1552.42L570.13 1553.69L586.76 1553.69L603.39 1553.69L603.39 1553.32L620.01 1553.32L636.64 1553.32L636.64 1555.14L653.27 1555.14L669.9 1555.14L686.53 1555.14L703.16 1555.14L719.79 1555.14L719.79 1556.59L736.41 1556.59L753.04 1556.59L753.04 1556.95L769.67 1556.95L769.67 1557.86L786.3 1557.86L786.3 1559.67L802.93 1559.67L819.56 1559.67L836.19 1559.67L836.19 1561.49L852.81 1561.49L869.44 1561.49L886.07 1561.49L902.7 1561.49L902.7 1726.9 Z"/>
<path fill="#0000FF" d="M320.7 1726.9L320.7 1657.62L337.33 1657.62L337.33 1649.64L353.96 1649.64L353.96 1638.21L370.59 1638.21L370.59 1621.34L387.21 1621.34L387.21 1610.46L403.84 1610.46L403.84 1603.2L420.47 1603.2L420.47 1596.31L437.1 1596.31L437.1 1590.51L453.73 1590.51L453.73 1585.07L470.36 1585.07L470.36 1580.53L486.99 1580.53L486.99 1578.35L503.61 1578.35L503.61 1574.18L520.24 1574.18L520.24 1572.91L536.87 1572.91L536.87 1569.65L553.5 1569.65L570.13 1569.65L586.76 1569.65L586.76 1566.93L603.39 1566.93L603.39 1567.47L620.01 1567.47L620.01 1566.02L636.64 1566.02L636.64 1564.75L653.27 1564.75L653.27 1566.02L669.9 1566.02L686.53 1566.02L686.53 1564.75L703.16 1564.75L719.79 1564.75L736.41 1564.75L736.41 1566.02L753.04 1566.02L753.04 1564.75L769.67 1564.75L769.67 1566.02L786.3 1566.02L786.3 1565.66L802.93 1565.66L802.93 1566.93L819.56 1566.93L819.56 1567.29L836.19 1567.29L852.81 1567.29L869.44 1567.29L869.44 1568.2L886.07 1568.2L886.07 1568.38L902.7 1568.38L902.7 1726.9 Z"/>
<path fill="#40E0D0" d="M320.7 1726.9L320.7 1660.34L337.33 1660.34L337.33 1650.91L353.96 1650.91L353.96 1639.48L370.59 1639.48L370.59 1622.61L387.21 1622.61L387.21 1610.46L403.84 1610.46L403.84 1604.47L420.47 1604.47L420.47 1596.31L437.1 1596.31L437.1 1591.78L453.73 1591.78L453.73 1586.33L470.36 1586.33L470.36 1580.53L486.99 1580.53L486.99 1578.35L503.61 1578.35L503.61 1575.45L520.24 1575.45L520.24 1574.18L536.87 1574.18L536.87 1570.92L553.5 1570.92L553.5 1569.65L570.13 1569.65L586.76 1569.65L586.76 1568.2L603.39 1568.2L603.39 1567.47L620.01 1567.47L620.01 1566.02L636.64 1566.02L653.27 1566.02L669.9 1566.02L686.53 1566.02L703.16 1566.02L719.79 1566.02L736.41 1566.02L753.04 1566.02L769.67 1566.02L786.3 1566.02L786.3 1566.93L802.93 1566.93L819.56 1566.93L819.56 1567.29L836.19 1567.29L852.81 1567.29L869.44 1567.29L869.44 1568.2L886.07 1568.2L886.07 1569.65L902.7 1569.65L902.7 1726.9 Z"/>
<path fill="#000000" d="M320.7 1726.9L320.7 1725.63L337.33 1725.63L353.96 1725.63L353.96 1726.18L370.59 1726.18L387.21 1726.18L403.84 1726.18L420.47 1726.18L420.47 1725.63L437.1 1725.63L437.1 1726.18L453.73 1726.18L470.36 1726.18L486.99 1726.18L503.61 1726.18L520.24 1726.18L536.87 1726.18L553.5 1726.18L553.5 1726.9L570.13 1726.9L586.76 1726.9L603.39 1726.9L620.01 1726.9L620.01 1726.18L636.64 1726.18L653.27 1726.18L669.9 1726.18L686.53 1726.18L703.16 1726.18L703.16 1725.63L719.79 1725.63L736.41 1725.63L753.04 1725.63L769.67 1725.63L786.3 1725.63L786.3 1723.46L802.93 1723.46L819.56 1723.46L836.19 1723.46L852.81 1723.46L852.81 1722.01L869.44 1722.01L886.07 1722.01L886.07 1720.56L902.7 1720.56L902.7 1726.9 Z"/>
</g>
<path fill="none" stroke="#000" stroke-width="2.5" d="M297.1 1546.75V1727.95M280.2 1726.7H297.1M280.2 1690.96H297.1M280.2 1655.22H297.1M280.2 1619.48H297.1M280.2 1583.74H297.1M280.2 1548H297.1M327.76 1731H895.64M329.01 1731V1747.3M345.64 1731V1747.3M362.27 1731V1747.3M378.9 1731V1747.3M395.53 1731V1747.3M412.16 1731V1747.3M428.79 1731V1747.3M445.41 1731V1747.3M462.04 1731V1747.3M478.67 1731V1747.3M495.3 1731V1747.3M511.93 1731V1747.3M528.56 1731V1747.3M545.19 1731V1747.3M561.81 1731V1747.3M578.44 1731V1747.3M595.07 1731V1747.3M611.7 1731V1747.3M628.33 1731V1747.3M644.96 1731V1747.3M661.59 1731V1747.3M678.21 1731V1747.3M694.84 1731V1747.3M711.47 1731V1747.3M728.1 1731V1747.3M744.73 1731V1747.3M761.36 1731V1747.3M777.99 1731V1747.3M794.61 1731V1747.3M811.24 1731V1747.3M827.87 1731V1747.3M844.5 1731V1747.3M861.13 1731V1747.3M877.76 1731V1747.3M894.39 1731V1747.3"/>
<g font-size="25" text-anchor="middle"><text transform="translate(329.01 1786.6) scale(1 1)">15</text><text transform="translate(395.53 1786.6) scale(1 1)">19</text><text transform="translate(462.04 1786.6) scale(1 1)">23</text><text transform="translate(528.56 1786.6) scale(1 1)">27</text><text transform="translate(595.07 1786.6) scale(1 1)">31</text><text transform="translate(661.59 1786.6) scale(1 1)">35</text><text transform="translate(728.1 1786.6) scale(1 1)">39</text><text transform="translate(794.61 1786.6) scale(1 1)">43</text><text transform="translate(861.13 1786.6) scale(1 1)">47</text></g>
<g font-size="28.4" text-anchor="middle" letter-spacing="-2.9" stroke-width="0.1"><text transform="translate(260.3 1729) rotate(-90) scale(1.105 1)">0.0</text><text transform="translate(260.3 1657.52) rotate(-90) scale(1.105 1)">0.4</text><text transform="translate(260.3 1586.04) rotate(-90) scale(1.105 1)">0.8</text></g></g>
<g><g shape-rendering="crispEdges">
<path fill="#FA8072" d="M1040.9 1730.53L1040.9 1545.16L1058.21 1545.16L1075.52 1545.16L1092.83 1545.16L1110.15 1545.16L1127.46 1545.16L1144.77 1545.16L1162.08 1545.16L1179.39 1545.16L1196.7 1545.16L1214.01 1545.16L1231.33 1545.16L1248.64 1545.16L1265.95 1545.16L1283.26 1545.16L1300.57 1545.16L1317.88 1545.16L1335.19 1545.16L1352.51 1545.16L1369.82 1545.16L1387.13 1545.16L1404.44 1545.16L1421.75 1545.16L1439.06 1545.16L1456.37 1545.16L1473.69 1545.16L1491 1545.16L1508.31 1545.16L1525.62 1545.16L1542.93 1545.16L1560.24 1545.16L1577.55 1545.16L1594.87 1545.16L1612.18 1545.16L1629.49 1545.16L1646.8 1545.16L1646.8 1730.53 Z"/>
<path fill="#BEBEBE" d="M1040.9 1730.53L1040.9 1546.79L1058.21 1546.79L1075.52 1546.79L1092.83 1546.79L1110.15 1546.79L1127.46 1546.79L1144.77 1546.79L1162.08 1546.79L1162.08 1548.06L1179.39 1548.06L1196.7 1548.06L1214.01 1548.06L1214.01 1549.15L1231.33 1549.15L1248.64 1549.15L1265.95 1549.15L1283.26 1549.15L1300.57 1549.15L1317.88 1549.15L1335.19 1549.15L1352.51 1549.15L1369.82 1549.15L1387.13 1549.15L1404.44 1549.15L1421.75 1549.15L1421.75 1546.79L1439.06 1546.79L1456.37 1546.79L1473.69 1546.79L1491 1546.79L1508.31 1546.79L1525.62 1546.79L1542.93 1546.79L1560.24 1546.79L1577.55 1546.79L1594.87 1546.79L1612.18 1546.79L1629.49 1546.79L1646.8 1546.79L1646.8 1730.53 Z"/>
<path fill="#F0E68C" d="M1040.9 1730.53L1040.9 1546.79L1058.21 1546.79L1075.52 1546.79L1092.83 1546.79L1110.15 1546.79L1127.46 1546.79L1127.46 1546.97L1144.77 1546.97L1144.77 1548.06L1162.08 1548.06L1162.08 1549.51L1179.39 1549.51L1179.39 1552.23L1196.7 1552.23L1196.7 1555.86L1214.01 1555.86L1214.01 1560.39L1231.33 1560.39L1231.33 1563.11L1248.64 1563.11L1248.64 1569.46L1265.95 1569.46L1265.95 1574L1283.26 1574L1283.26 1578.53L1300.57 1578.53L1300.57 1583.07L1317.88 1583.07L1317.88 1590.32L1335.19 1590.32L1335.19 1597.58L1352.51 1597.58L1352.51 1603.56L1369.82 1603.56L1369.82 1610.27L1387.13 1610.27L1387.13 1618.07L1404.44 1618.07L1404.44 1625.69L1421.75 1625.69L1421.75 1635.3L1439.06 1635.3L1439.06 1644.19L1456.37 1644.19L1456.37 1652.9L1473.69 1652.9L1473.69 1664.14L1491 1664.14L1491 1673.39L1508.31 1673.39L1508.31 1684.09L1525.62 1684.09L1525.62 1695.52L1542.93 1695.52L1542.93 1706.04L1560.24 1706.04L1560.24 1716.38L1577.55 1716.38L1577.55 1721.82L1594.87 1721.82L1594.87 1722.73L1612.18 1722.73L1612.18 1720.91L1629.49 1720.91L1629.49 1715.47L1646.8 1715.47L1646.8 1730.53 Z"/>
<path fill="#8B0000" d="M1040.9 1730.53L1040.9 1730.53L1058.21 1730.53L1058.21 1728.17L1075.52 1728.17L1075.52 1723.63L1092.83 1723.63L1092.83 1711.84L1110.15 1711.84L1110.15 1696.43L1127.46 1696.43L1127.46 1675.93L1144.77 1675.93L1144.77 1655.62L1162.08 1655.62L1162.08 1635.67L1179.39 1635.67L1179.39 1619.34L1196.7 1619.34L1196.7 1604.83L1214.01 1604.83L1214.01 1594.85L1231.33 1594.85L1231.33 1590.32L1248.64 1590.32L1248.64 1587.6L1265.95 1587.6L1283.26 1587.6L1300.57 1587.6L1300.57 1589.96L1317.88 1589.96L1317.88 1595.76L1335.19 1595.76L1335.19 1599.93L1352.51 1599.93L1352.51 1604.29L1369.82 1604.29L1369.82 1610.82L1387.13 1610.82L1387.13 1619.34L1404.44 1619.34L1404.44 1626.6L1421.75 1626.6L1421.75 1635.3L1439.06 1635.3L1439.06 1645.1L1456.37 1645.1L1456.37 1653.8L1473.69 1653.8L1473.69 1664.14L1491 1664.14L1491 1674.3L1508.31 1674.3L1508.31 1684.09L1525.62 1684.09L1525.62 1695.52L1542.93 1695.52L1542.93 1707.31L1560.24 1707.31L1560.24 1716.38L1577.55 1716.38L1577.55 1721.82L1594.87 1721.82L1594.87 1723.63L1612.18 1723.63L1612.18 1720.91L1629.49 1720.91L1629.49 1715.47L1646.8 1715.47L1646.8 1730.53 Z"/>
<path fill="#9ACD32" d="M1040.9 1730.53L1040.9 1730.53L1058.21 1730.53L1058.21 1729.8L1075.52 1729.8L1075.52 1725.45L1092.83 1725.45L1092.83 1713.66L1110.15 1713.66L1110.15 1699.15L1127.46 1699.15L1127.46 1680.1L1144.77 1680.1L1144.77 1660.15L1162.08 1660.15L1162.08 1639.84L1179.39 1639.84L1179.39 1621.7L1196.7 1621.7L1196.7 1607.55L1214.01 1607.55L1214.01 1598.85L1231.33 1598.85L1231.33 1592.13L1248.64 1592.13L1248.64 1590.32L1265.95 1590.32L1283.26 1590.32L1300.57 1590.32L1300.57 1591.59L1317.88 1591.59L1317.88 1595.76L1335.19 1595.76L1335.19 1601.2L1352.51 1601.2L1352.51 1606.64L1369.82 1606.64L1369.82 1612.99L1387.13 1612.99L1387.13 1621.15L1404.44 1621.15L1404.44 1628.41L1421.75 1628.41L1421.75 1636.57L1439.06 1636.57L1439.06 1645.1L1456.37 1645.1L1456.37 1653.8L1473.69 1653.8L1473.69 1665.59L1491 1665.59L1491 1674.3L1508.31 1674.3L1508.31 1684.09L1525.62 1684.09L1525.62 1695.52L1542.93 1695.52L1542.93 1707.31L1560.24 1707.31L1560.24 1716.38L1577.55 1716.38L1577.55 1721.82L1594.87 1721.82L1594.87 1723.63L1612.18 1723.63L1612.18 1720.91L1629.49 1720.91L1629.49 1715.47L1646.8 1715.47L1646.8 1730.53 Z"/>
<path fill="#00008B" d="M1040.9 1730.53L1040.9 1730.53L1058.21 1730.53L1058.21 1730.16L1075.52 1730.16L1075.52 1729.44L1092.83 1729.44L1092.83 1725.45L1110.15 1725.45L1110.15 1718.19L1127.46 1718.19L1127.46 1706.04L1144.77 1706.04L1144.77 1693.16L1162.08 1693.16L1162.08 1679.2L1179.39 1679.2L1179.39 1664.14L1196.7 1664.14L1196.7 1648.91L1214.01 1648.91L1214.01 1635.3L1231.33 1635.3L1231.33 1623.88L1248.64 1623.88L1248.64 1616.62L1265.95 1616.62L1265.95 1610.82L1283.26 1610.82L1283.26 1607.55L1300.57 1607.55L1300.57 1606.64L1317.88 1606.64L1317.88 1607.55L1335.19 1607.55L1335.19 1609.37L1352.51 1609.37L1352.51 1612.09L1369.82 1612.09L1369.82 1617.53L1387.13 1617.53L1387.13 1623.88L1404.44 1623.88L1404.44 1629.68L1421.75 1629.68L1421.75 1636.57L1439.06 1636.57L1439.06 1645.1L1456.37 1645.1L1456.37 1653.8L1473.69 1653.8L1473.69 1665.59L1491 1665.59L1491 1674.3L1508.31 1674.3L1508.31 1684.09L1525.62 1684.09L1525.62 1695.52L1542.93 1695.52L1542.93 1707.31L1560.24 1707.31L1560.24 1716.38L1577.55 1716.38L1577.55 1721.82L1594.87 1721.82L1594.87 1723.63L1612.18 1723.63L1612.18 1720.91L1629.49 1720.91L1629.49 1715.47L1646.8 1715.47L1646.8 1730.53 Z"/>
</g>
<path fill="none" stroke="#000" stroke-width="2.5" d="M1016.5 1544.25V1732.05M998.9 1730.8H1016.5M998.9 1693.74H1016.5M998.9 1656.68H1016.5M998.9 1619.62H1016.5M998.9 1582.56H1016.5M998.9 1545.5H1016.5M1048.31 1734.8H1639.39M1049.56 1734.8V1752M1066.87 1734.8V1752M1084.18 1734.8V1752M1101.49 1734.8V1752M1118.8 1734.8V1752M1136.11 1734.8V1752M1153.42 1734.8V1752M1170.74 1734.8V1752M1188.05 1734.8V1752M1205.36 1734.8V1752M1222.67 1734.8V1752M1239.98 1734.8V1752M1257.29 1734.8V1752M1274.6 1734.8V1752M1291.92 1734.8V1752M1309.23 1734.8V1752M1326.54 1734.8V1752M1343.85 1734.8V1752M1361.16 1734.8V1752M1378.47 1734.8V1752M1395.78 1734.8V1752M1413.1 1734.8V1752M1430.41 1734.8V1752M1447.72 1734.8V1752M1465.03 1734.8V1752M1482.34 1734.8V1752M1499.65 1734.8V1752M1516.96 1734.8V1752M1534.28 1734.8V1752M1551.59 1734.8V1752M1568.9 1734.8V1752M1586.21 1734.8V1752M1603.52 1734.8V1752M1620.83 1734.8V1752M1638.14 1734.8V1752"/>
<g font-size="26.5" text-anchor="middle"><text transform="translate(1049.56 1792.4) scale(1 1)">15</text><text transform="translate(1118.8 1792.4) scale(1 1)">19</text><text transform="translate(1188.05 1792.4) scale(1 1)">23</text><text transform="translate(1257.29 1792.4) scale(1 1)">27</text><text transform="translate(1326.54 1792.4) scale(1 1)">31</text><text transform="translate(1395.78 1792.4) scale(1 1)">35</text><text transform="translate(1465.03 1792.4) scale(1 1)">39</text><text transform="translate(1534.28 1792.4) scale(1 1)">43</text><text transform="translate(1603.52 1792.4) scale(1 1)">47</text></g>
<g font-size="29.2" text-anchor="middle" letter-spacing="-2.9" stroke-width="0.1"><text transform="translate(977.6 1733.1) rotate(-90) scale(1.105 1)">0.0</text><text transform="translate(977.6 1658.98) rotate(-90) scale(1.105 1)">0.4</text><text transform="translate(977.6 1584.86) rotate(-90) scale(1.105 1)">0.8</text></g></g>
<text transform="translate(571.5 37) scale(1 0.965)" font-size="41.4" text-anchor="middle">Work trajectories</text>
<text transform="translate(1302.2 37) scale(1 0.965)" font-size="41.35" text-anchor="middle">Family trajectories</text>
<g font-size="36.5" text-anchor="middle"><text transform="translate(78 196) scale(1 1.01)">FT-PP</text><text transform="translate(78 238.1) scale(1 1.01)">(56.17%)</text><text transform="translate(78 489.5) scale(1 1.01)">NW-PP</text><text transform="translate(78 530.6) scale(1 1.01)">(15.61%)</text><text transform="translate(78 781) scale(1 1.01)">FT-SC</text><text transform="translate(78 823.1) scale(1 1.01)">(10.04%)</text><text transform="translate(78 1073.5) scale(1 1.01)">SE-PP</text><text transform="translate(78 1115.1) scale(1 1.01)">(8.30%)</text><text transform="translate(78 1365.5) scale(1 1.01)">PT-PP</text><text transform="translate(78 1408.1) scale(1 1.01)">(5.25%)</text><text transform="translate(78 1659) scale(1 1.01)">FT-UP</text><text transform="translate(78 1701.1) scale(1 1.01)">(4.62%)</text></g>
<g><rect x="445.51" y="1819.16" width="17.95" height="15.23" fill="#000000" stroke="#000" stroke-width="2.0" stroke-linejoin="round"/><text transform="translate(485.6 1835.89) scale(1 1.0)" font-size="24.9">Disabled</text><rect x="446.05" y="1849.45" width="17.41" height="14.32" fill="#40E0D0" stroke="#000" stroke-width="2.0" stroke-linejoin="round"/><text transform="translate(485.6 1864.91) scale(1 1.0)" font-size="24.9">Full−time employed</text><rect x="446.05" y="1878.47" width="17.41" height="14.87" fill="#0000FF" stroke="#000" stroke-width="2.0" stroke-linejoin="round"/><text transform="translate(485.6 1894.12) scale(1 1.0)" font-size="24.9">Missing</text><rect x="444.6" y="1907.67" width="17.95" height="13.78" fill="#FFFF00" stroke="#000" stroke-width="2.0" stroke-linejoin="round"/><text transform="translate(483.3 1923.14) scale(1 1.0)" font-size="24.3">Non−employed</text><rect x="444.6" y="1936.15" width="17.95" height="14.32" fill="#A52A2A" stroke="#000" stroke-width="2.0" stroke-linejoin="round"/><text transform="translate(483.3 1951.98) scale(1 1.0)" font-size="24.3">Part−time employed</text><rect x="444.6" y="1965.17" width="17.95" height="14.32" fill="#A9A9A9" stroke="#000" stroke-width="2.0" stroke-linejoin="round"/><text transform="translate(483.3 1981) scale(1 1.0)" font-size="24.3">Self−employed</text><rect x="441.88" y="2000.18" width="18.31" height="14.69" fill="#FFC0CB" stroke="#000" stroke-width="2.0" stroke-linejoin="round"/><text transform="translate(481.8 2016) scale(1 1.0)" font-size="24.55">Unemployed</text><rect x="1171.1" y="1834.12" width="18.53" height="15.14" fill="#00008B" stroke="#000" stroke-width="2.0" stroke-linejoin="round"/><text transform="translate(1212.2 1850.76) scale(1 1.0)" font-size="25.8">Partnered, children</text><rect x="1171.1" y="1864.8" width="18.53" height="15.14" fill="#9ACD32" stroke="#000" stroke-width="2.0" stroke-linejoin="round"/><text transform="translate(1212.2 1881.23) scale(1 1.0)" font-size="25.8">Partnered, no children</text><rect x="1171.53" y="1895.06" width="19.16" height="15.35" fill="#8B0000" stroke="#000" stroke-width="2.0" stroke-linejoin="round"/><text transform="translate(1214 1911.91) scale(1 1.0)" font-size="26.3">Single, children</text><rect x="1171.53" y="1926.17" width="19.16" height="15.56" fill="#F0E68C" stroke="#000" stroke-width="2.0" stroke-linejoin="round"/><text transform="translate(1214 1942.81) scale(1 1.0)" font-size="26.3">Single, no children</text><rect x="1170.04" y="1957.91" width="18.1" height="14.51" fill="#BEBEBE" stroke="#000" stroke-width="2.0" stroke-linejoin="round"/><text transform="translate(1210 1973.7) scale(1 1.0)" font-size="24.6">Unpartnered, children</text><rect x="1170.04" y="1987.11" width="18.1" height="14.29" fill="#FA8072" stroke="#000" stroke-width="2.0" stroke-linejoin="round"/><text transform="translate(1210 2002.69) scale(1 1.0)" font-size="24.6">Unpartnered, no children</text></g>
</svg>
</body>
</html>
